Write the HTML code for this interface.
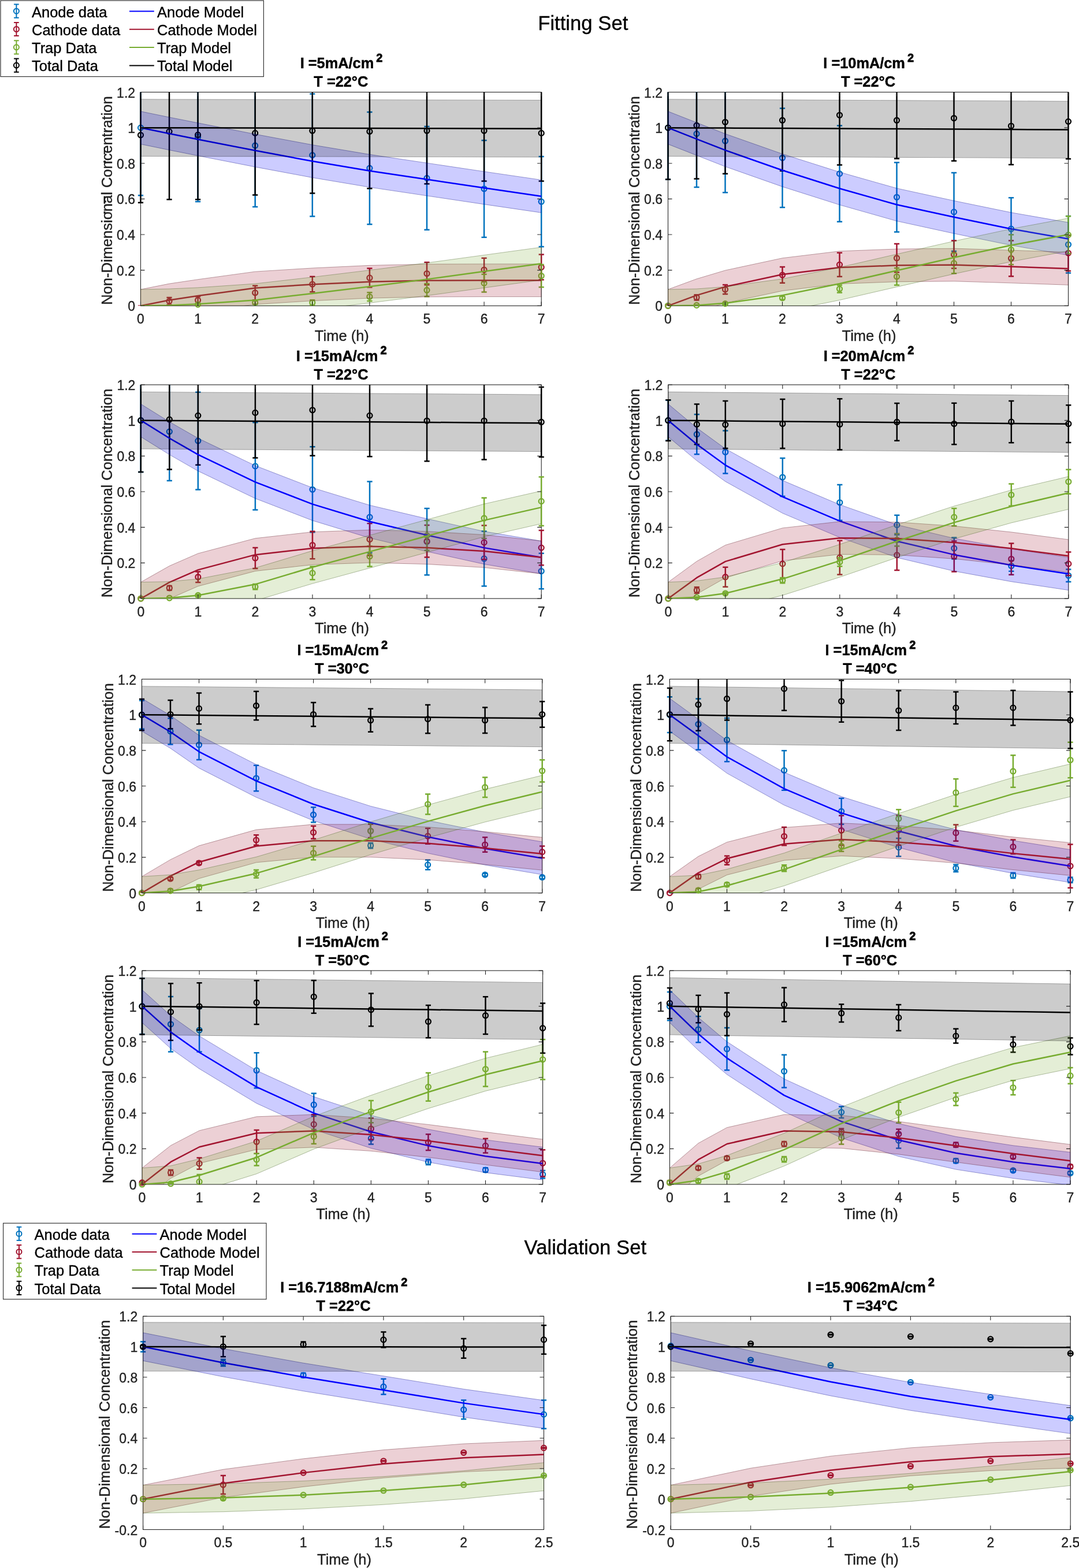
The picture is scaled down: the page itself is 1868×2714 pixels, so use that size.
<!DOCTYPE html>
<html><head><meta charset="utf-8"><title>Fitting and Validation Sets</title><style>html,body{margin:0;padding:0;background:#fff}svg{display:block}</style></head>
<body>
<svg width="1868" height="2714" viewBox="0 0 1868 2714">
<style>text{font-family:"Liberation Sans",Arial,Helvetica,sans-serif;fill:#000;stroke:#000;stroke-width:0.35px}.tk{font-size:23px;fill:#1f1f1f;stroke:#1f1f1f}.lab{font-size:25.5px;fill:#1f1f1f;stroke:#1f1f1f}.ttl{font-size:25.35px;font-weight:bold;stroke-width:0.45px}.leg{font-size:25.5px}.big{font-size:34.7px}</style>
<rect width="1868" height="2714" fill="#fff"/>
<clipPath id="c0"><rect x="243.5" y="159.5" width="693.7" height="369.8"/></clipPath>
<clipPath id="cw0"><rect x="231.5" y="159.5" width="717.7" height="369.8"/></clipPath>
<rect x="243.5" y="159.5" width="693.7" height="369.8" fill="none" stroke="#262626" stroke-width="1.1"/>
<path clip-path="url(#cw0)" d="M243.5 104.03V338.24M238.9 104.03H248.1M238.9 338.24H248.1M342.6 125.29V349.02M338 125.29H347.2M338 349.02H347.2M441.7 145.94V357.96M437.1 145.94H446.3M437.1 357.96H446.3M540.8 162.58V374.6M536.2 162.58H545.4M536.2 374.6H545.4M639.9 194.01V388.16M635.3 194.01H644.5M635.3 388.16H644.5M739 218.98V397.71M734.4 218.98H743.6M734.4 397.71H743.6M838.1 243.01V410.66M833.5 243.01H842.7M833.5 410.66H842.7M937.2 271.06V426.99M932.6 271.06H941.8M932.6 426.99H941.8" stroke="#0072BD" stroke-width="2.5" fill="none"/>
<circle cx="243.5" cy="221.13" r="4.45" stroke="#0072BD" stroke-width="2.3" fill="none"/>
<circle cx="342.6" cy="237.16" r="4.45" stroke="#0072BD" stroke-width="2.3" fill="none"/>
<circle cx="441.7" cy="251.95" r="4.45" stroke="#0072BD" stroke-width="2.3" fill="none"/>
<circle cx="540.8" cy="268.59" r="4.45" stroke="#0072BD" stroke-width="2.3" fill="none"/>
<circle cx="639.9" cy="291.09" r="4.45" stroke="#0072BD" stroke-width="2.3" fill="none"/>
<circle cx="739" cy="308.34" r="4.45" stroke="#0072BD" stroke-width="2.3" fill="none"/>
<circle cx="838.1" cy="326.83" r="4.45" stroke="#0072BD" stroke-width="2.3" fill="none"/>
<circle cx="937.2" cy="349.02" r="4.45" stroke="#0072BD" stroke-width="2.3" fill="none"/>
<path clip-path="url(#cw0)" d="M243.5 529.61V529.61M238.9 529.61H248.1M238.9 529.61H248.1M293.05 515.12V527.45M288.45 515.12H297.65M288.45 527.45H297.65M342.6 513.28V525.6M338 513.28H347.2M338 525.6H347.2M441.7 494.48V519.13M437.1 494.48H446.3M437.1 519.13H446.3M540.8 478.76V505.26M536.2 478.76H545.4M536.2 505.26H545.4M639.9 464.58V497.25M635.3 464.58H644.5M635.3 497.25H644.5M739 454.11V492.94M734.4 454.11H743.6M734.4 492.94H743.6M838.1 446.71V487.39M833.5 446.71H842.7M833.5 487.39H842.7M937.2 440.55V484.31M932.6 440.55H941.8M932.6 484.31H941.8" stroke="#A2142F" stroke-width="2.5" fill="none"/>
<circle cx="293.05" cy="521.29" r="4.45" stroke="#A2142F" stroke-width="2.3" fill="none"/>
<circle cx="342.6" cy="519.44" r="4.45" stroke="#A2142F" stroke-width="2.3" fill="none"/>
<circle cx="441.7" cy="506.8" r="4.45" stroke="#A2142F" stroke-width="2.3" fill="none"/>
<circle cx="540.8" cy="492.01" r="4.45" stroke="#A2142F" stroke-width="2.3" fill="none"/>
<circle cx="639.9" cy="480.92" r="4.45" stroke="#A2142F" stroke-width="2.3" fill="none"/>
<circle cx="739" cy="473.52" r="4.45" stroke="#A2142F" stroke-width="2.3" fill="none"/>
<circle cx="838.1" cy="467.05" r="4.45" stroke="#A2142F" stroke-width="2.3" fill="none"/>
<circle cx="937.2" cy="462.43" r="4.45" stroke="#A2142F" stroke-width="2.3" fill="none"/>
<path clip-path="url(#cw0)" d="M342.6 525.6V528.68M338 525.6H347.2M338 528.68H347.2M441.7 520.67V526.83M437.1 520.67H446.3M437.1 526.83H446.3M540.8 519.13V528.38M536.2 519.13H545.4M536.2 528.38H545.4M639.9 506.19V520.98M635.3 506.19H644.5M635.3 520.98H644.5M739 491.09V513.28M734.4 491.09H743.6M734.4 513.28H743.6M838.1 474.75V505.57M833.5 474.75H842.7M833.5 505.57H842.7M937.2 458.11V496.94M932.6 458.11H941.8M932.6 496.94H941.8" stroke="#77AC30" stroke-width="2.5" fill="none"/>
<circle cx="342.6" cy="527.14" r="4.45" stroke="#77AC30" stroke-width="2.3" fill="none"/>
<circle cx="441.7" cy="523.75" r="4.45" stroke="#77AC30" stroke-width="2.3" fill="none"/>
<circle cx="540.8" cy="523.75" r="4.45" stroke="#77AC30" stroke-width="2.3" fill="none"/>
<circle cx="639.9" cy="513.58" r="4.45" stroke="#77AC30" stroke-width="2.3" fill="none"/>
<circle cx="739" cy="502.18" r="4.45" stroke="#77AC30" stroke-width="2.3" fill="none"/>
<circle cx="838.1" cy="490.16" r="4.45" stroke="#77AC30" stroke-width="2.3" fill="none"/>
<circle cx="937.2" cy="477.53" r="4.45" stroke="#77AC30" stroke-width="2.3" fill="none"/>
<path clip-path="url(#cw0)" d="M243.5 116.66V350.87M238.9 116.66H248.1M238.9 350.87H248.1M293.05 109.89V345.32M288.45 109.89H297.65M288.45 345.32H297.65M342.6 121.6V345.32M338 121.6H347.2M338 345.32H347.2M441.7 123.14V337.62M437.1 123.14H446.3M437.1 337.62H446.3M540.8 118.21V334.54M536.2 118.21H545.4M536.2 334.54H545.4M639.9 128.99V326.22M635.3 128.99H644.5M635.3 326.22H644.5M739 134.54V318.21M734.4 134.54H743.6M734.4 318.21H743.6M838.1 139.16V313.58M833.5 139.16H842.7M833.5 313.58H842.7M937.2 147.17V313.58M932.6 147.17H941.8M932.6 313.58H941.8" stroke="#000" stroke-width="2.5" fill="none"/>
<circle cx="243.5" cy="233.77" r="4.45" stroke="#000" stroke-width="2.3" fill="none"/>
<circle cx="293.05" cy="227.6" r="4.45" stroke="#000" stroke-width="2.3" fill="none"/>
<circle cx="342.6" cy="233.46" r="4.45" stroke="#000" stroke-width="2.3" fill="none"/>
<circle cx="441.7" cy="230.38" r="4.45" stroke="#000" stroke-width="2.3" fill="none"/>
<circle cx="540.8" cy="226.37" r="4.45" stroke="#000" stroke-width="2.3" fill="none"/>
<circle cx="639.9" cy="227.6" r="4.45" stroke="#000" stroke-width="2.3" fill="none"/>
<circle cx="739" cy="226.37" r="4.45" stroke="#000" stroke-width="2.3" fill="none"/>
<circle cx="838.1" cy="226.37" r="4.45" stroke="#000" stroke-width="2.3" fill="none"/>
<circle cx="937.2" cy="230.38" r="4.45" stroke="#000" stroke-width="2.3" fill="none"/>
<polygon clip-path="url(#c0)" points="243.5,192.78 293.05,202.95 342.6,212.81 441.7,232.23 540.8,250.72 639.9,267.36 739,282.15 838.1,296.94 937.2,311.43 937.2,368.13 838.1,353.64 739,338.85 639.9,324.06 540.8,307.42 441.7,288.93 342.6,269.52 293.05,259.65 243.5,249.48" fill="#0000FF" fill-opacity="0.2" stroke="#00007f" stroke-opacity="0.38" stroke-width="1.0"/>
<polyline clip-path="url(#c0)" points="243.5,221.13 293.05,231.3 342.6,241.16 441.7,260.58 540.8,279.07 639.9,295.71 739,310.5 838.1,325.29 937.2,339.78" stroke="#0000FF" stroke-width="2.5" fill="none" stroke-linejoin="round"/>
<polygon clip-path="url(#c0)" points="243.5,500.95 293.05,491.09 342.6,483.69 441.7,470.13 540.8,463.97 639.9,459.35 739,457.19 838.1,456.88 937.2,456.88 937.2,513.58 838.1,513.58 739,513.89 639.9,516.05 540.8,520.67 441.7,526.83 342.6,540.39 293.05,547.79 243.5,557.65" fill="#A2142F" fill-opacity="0.2" stroke="#510a17" stroke-opacity="0.38" stroke-width="1.0"/>
<polyline clip-path="url(#c0)" points="243.5,529.3 293.05,519.44 342.6,512.04 441.7,498.48 540.8,492.32 639.9,487.7 739,485.54 838.1,485.23 937.2,485.23" stroke="#A2142F" stroke-width="2.5" fill="none" stroke-linejoin="round"/>
<polygon clip-path="url(#c0)" points="243.5,500.95 293.05,500.02 342.6,497.87 441.7,491.09 540.8,479.69 639.9,467.67 739,455.03 838.1,441.47 937.2,427.91 937.2,484.62 838.1,498.18 739,511.73 639.9,524.37 540.8,536.39 441.7,547.79 342.6,554.57 293.05,556.73 243.5,557.65" fill="#77AC30" fill-opacity="0.2" stroke="#3b5618" stroke-opacity="0.38" stroke-width="1.0"/>
<polyline clip-path="url(#c0)" points="243.5,529.3 293.05,528.38 342.6,526.22 441.7,519.44 540.8,508.04 639.9,496.02 739,483.38 838.1,469.82 937.2,456.26" stroke="#77AC30" stroke-width="2.5" fill="none" stroke-linejoin="round"/>
<polygon clip-path="url(#c0)" points="243.5,171.83 293.05,171.94 342.6,172.05 441.7,172.27 540.8,172.49 639.9,172.71 739,172.93 838.1,173.15 937.2,173.37 937.2,271.98 838.1,271.76 739,271.54 639.9,271.32 540.8,271.1 441.7,270.88 342.6,270.66 293.05,270.55 243.5,270.44" fill="#000" fill-opacity="0.2" stroke="#000000" stroke-opacity="0.3" stroke-width="1.0"/>
<polyline clip-path="url(#c0)" points="243.5,221.13 293.05,221.24 342.6,221.35 441.7,221.57 540.8,221.79 639.9,222.01 739,222.23 838.1,222.45 937.2,222.67" stroke="#000" stroke-width="2.5" fill="none" stroke-linejoin="round"/>
<path d="M243.5 529.3v-7M243.5 159.5v7M342.6 529.3v-7M342.6 159.5v7M441.7 529.3v-7M441.7 159.5v7M540.8 529.3v-7M540.8 159.5v7M639.9 529.3v-7M639.9 159.5v7M739 529.3v-7M739 159.5v7M838.1 529.3v-7M838.1 159.5v7M937.2 529.3v-7M937.2 159.5v7M243.5 529.3h7M937.2 529.3h-7M243.5 467.67h7M937.2 467.67h-7M243.5 406.03h7M937.2 406.03h-7M243.5 344.4h7M937.2 344.4h-7M243.5 282.77h7M937.2 282.77h-7M243.5 221.13h7M937.2 221.13h-7M243.5 159.5h7M937.2 159.5h-7" stroke="#262626" stroke-width="1.1" fill="none"/>
<text x="243.5" y="560.2" text-anchor="middle" class="tk">0</text>
<text x="342.6" y="560.2" text-anchor="middle" class="tk">1</text>
<text x="441.7" y="560.2" text-anchor="middle" class="tk">2</text>
<text x="540.8" y="560.2" text-anchor="middle" class="tk">3</text>
<text x="639.9" y="560.2" text-anchor="middle" class="tk">4</text>
<text x="739" y="560.2" text-anchor="middle" class="tk">5</text>
<text x="838.1" y="560.2" text-anchor="middle" class="tk">6</text>
<text x="937.2" y="560.2" text-anchor="middle" class="tk">7</text>
<text x="234.1" y="538.3" text-anchor="end" class="tk">0</text>
<text x="234.1" y="476.67" text-anchor="end" class="tk">0.2</text>
<text x="234.1" y="415.03" text-anchor="end" class="tk">0.4</text>
<text x="234.1" y="353.4" text-anchor="end" class="tk">0.6</text>
<text x="234.1" y="291.77" text-anchor="end" class="tk">0.8</text>
<text x="234.1" y="230.13" text-anchor="end" class="tk">1</text>
<text x="234.1" y="168.5" text-anchor="end" class="tk">1.2</text>
<text x="591.85" y="589.6" text-anchor="middle" class="lab">Time (h)</text>
<text transform="translate(193.7,347) rotate(-90)" x="0" y="0" text-anchor="middle" class="lab">Non-Dimensional Concentration</text>
<text x="591.05" y="118.3" text-anchor="middle" class="ttl">I =5mA/cm<tspan dx="4.0" dy="-11.4" font-size="20" font-weight="bold" stroke-width="0.8">2</tspan></text>
<text x="590.35" y="150" text-anchor="middle" class="ttl">T =22°C</text>
<clipPath id="c1"><rect x="1156.5" y="159.5" width="693" height="369.8"/></clipPath>
<clipPath id="cw1"><rect x="1144.5" y="159.5" width="717" height="369.8"/></clipPath>
<rect x="1156.5" y="159.5" width="693" height="369.8" fill="none" stroke="#262626" stroke-width="1.1"/>
<path clip-path="url(#cw1)" d="M1156.5 131.76V310.5M1151.9 131.76H1161.1M1151.9 310.5H1161.1M1206 139.16V324.06M1201.4 139.16H1210.6M1201.4 324.06H1210.6M1255.5 154.57V333.31M1250.9 154.57H1260.1M1250.9 333.31H1260.1M1354.5 187.54V358.88M1349.9 187.54H1359.1M1349.9 358.88H1359.1M1453.5 217.44V383.85M1448.9 217.44H1458.1M1448.9 383.85H1458.1M1552.5 281.23V401.41M1547.9 281.23H1557.1M1547.9 401.41H1557.1M1651.5 299.1V434.69M1646.9 299.1H1656.1M1646.9 434.69H1656.1M1750.5 342.24V450.1M1745.9 342.24H1755.1M1745.9 450.1H1755.1M1849.5 373.98V472.6M1844.9 373.98H1854.1M1844.9 472.6H1854.1" stroke="#0072BD" stroke-width="2.5" fill="none"/>
<circle cx="1156.5" cy="221.13" r="4.45" stroke="#0072BD" stroke-width="2.3" fill="none"/>
<circle cx="1206" cy="231.61" r="4.45" stroke="#0072BD" stroke-width="2.3" fill="none"/>
<circle cx="1255.5" cy="243.94" r="4.45" stroke="#0072BD" stroke-width="2.3" fill="none"/>
<circle cx="1354.5" cy="273.21" r="4.45" stroke="#0072BD" stroke-width="2.3" fill="none"/>
<circle cx="1453.5" cy="300.64" r="4.45" stroke="#0072BD" stroke-width="2.3" fill="none"/>
<circle cx="1552.5" cy="341.32" r="4.45" stroke="#0072BD" stroke-width="2.3" fill="none"/>
<circle cx="1651.5" cy="366.9" r="4.45" stroke="#0072BD" stroke-width="2.3" fill="none"/>
<circle cx="1750.5" cy="396.17" r="4.45" stroke="#0072BD" stroke-width="2.3" fill="none"/>
<circle cx="1849.5" cy="423.29" r="4.45" stroke="#0072BD" stroke-width="2.3" fill="none"/>
<path clip-path="url(#cw1)" d="M1156.5 527.76V530.84M1151.9 527.76H1161.1M1151.9 530.84H1161.1M1206 510.19V519.44M1201.4 510.19H1210.6M1201.4 519.44H1210.6M1255.5 492.94V508.96M1250.9 492.94H1260.1M1250.9 508.96H1260.1M1354.5 462.12V489.85M1349.9 462.12H1359.1M1349.9 489.85H1359.1M1453.5 437.47V478.76M1448.9 437.47H1458.1M1448.9 478.76H1458.1M1552.5 422.06V471.36M1547.9 422.06H1557.1M1547.9 471.36H1557.1M1651.5 416.51V464.58M1646.9 416.51H1656.1M1646.9 464.58H1656.1M1750.5 416.51V478.14M1745.9 416.51H1755.1M1745.9 478.14H1755.1M1849.5 407.27V468.9M1844.9 407.27H1854.1M1844.9 468.9H1854.1" stroke="#A2142F" stroke-width="2.5" fill="none"/>
<circle cx="1156.5" cy="529.3" r="4.45" stroke="#A2142F" stroke-width="2.3" fill="none"/>
<circle cx="1206" cy="514.82" r="4.45" stroke="#A2142F" stroke-width="2.3" fill="none"/>
<circle cx="1255.5" cy="500.95" r="4.45" stroke="#A2142F" stroke-width="2.3" fill="none"/>
<circle cx="1354.5" cy="475.99" r="4.45" stroke="#A2142F" stroke-width="2.3" fill="none"/>
<circle cx="1453.5" cy="458.11" r="4.45" stroke="#A2142F" stroke-width="2.3" fill="none"/>
<circle cx="1552.5" cy="446.71" r="4.45" stroke="#A2142F" stroke-width="2.3" fill="none"/>
<circle cx="1651.5" cy="440.55" r="4.45" stroke="#A2142F" stroke-width="2.3" fill="none"/>
<circle cx="1750.5" cy="447.33" r="4.45" stroke="#A2142F" stroke-width="2.3" fill="none"/>
<circle cx="1849.5" cy="438.08" r="4.45" stroke="#A2142F" stroke-width="2.3" fill="none"/>
<path clip-path="url(#cw1)" d="M1156.5 529.3V529.3M1151.9 529.3H1161.1M1151.9 529.3H1161.1M1206 527.45V529.3M1201.4 527.45H1210.6M1201.4 529.3H1210.6M1255.5 524.06V527.14M1250.9 524.06H1260.1M1250.9 527.14H1260.1M1354.5 512.66V518.82M1349.9 512.66H1359.1M1349.9 518.82H1359.1M1453.5 493.55V506.5M1448.9 493.55H1458.1M1448.9 506.5H1458.1M1552.5 463.97V493.55M1547.9 463.97H1557.1M1547.9 493.55H1557.1M1651.5 438.08V473.21M1646.9 438.08H1656.1M1646.9 473.21H1656.1M1750.5 406.34V458.11M1745.9 406.34H1755.1M1745.9 458.11H1755.1M1849.5 374.29V439.01M1844.9 374.29H1854.1M1844.9 439.01H1854.1" stroke="#77AC30" stroke-width="2.5" fill="none"/>
<circle cx="1156.5" cy="529.3" r="4.45" stroke="#77AC30" stroke-width="2.3" fill="none"/>
<circle cx="1206" cy="528.38" r="4.45" stroke="#77AC30" stroke-width="2.3" fill="none"/>
<circle cx="1255.5" cy="525.6" r="4.45" stroke="#77AC30" stroke-width="2.3" fill="none"/>
<circle cx="1354.5" cy="515.74" r="4.45" stroke="#77AC30" stroke-width="2.3" fill="none"/>
<circle cx="1453.5" cy="500.02" r="4.45" stroke="#77AC30" stroke-width="2.3" fill="none"/>
<circle cx="1552.5" cy="478.76" r="4.45" stroke="#77AC30" stroke-width="2.3" fill="none"/>
<circle cx="1651.5" cy="455.65" r="4.45" stroke="#77AC30" stroke-width="2.3" fill="none"/>
<circle cx="1750.5" cy="432.23" r="4.45" stroke="#77AC30" stroke-width="2.3" fill="none"/>
<circle cx="1849.5" cy="406.65" r="4.45" stroke="#77AC30" stroke-width="2.3" fill="none"/>
<path clip-path="url(#cw1)" d="M1156.5 131.76V310.5M1151.9 131.76H1161.1M1151.9 310.5H1161.1M1206 124.68V309.58M1201.4 124.68H1210.6M1201.4 309.58H1210.6M1255.5 121.9V300.64M1250.9 121.9H1260.1M1250.9 300.64H1260.1M1354.5 120.67V295.71M1349.9 120.67H1359.1M1349.9 295.71H1359.1M1453.5 112.97V285.54M1448.9 112.97H1458.1M1448.9 285.54H1458.1M1552.5 141.93V274.45M1547.9 141.93H1557.1M1547.9 274.45H1557.1M1651.5 130.53V278.45M1646.9 130.53H1656.1M1646.9 278.45H1656.1M1750.5 151.18V284.92M1745.9 151.18H1755.1M1745.9 284.92H1755.1M1849.5 145.63V275.06M1844.9 145.63H1854.1M1844.9 275.06H1854.1" stroke="#000" stroke-width="2.5" fill="none"/>
<circle cx="1156.5" cy="221.13" r="4.45" stroke="#000" stroke-width="2.3" fill="none"/>
<circle cx="1206" cy="217.13" r="4.45" stroke="#000" stroke-width="2.3" fill="none"/>
<circle cx="1255.5" cy="211.27" r="4.45" stroke="#000" stroke-width="2.3" fill="none"/>
<circle cx="1354.5" cy="208.19" r="4.45" stroke="#000" stroke-width="2.3" fill="none"/>
<circle cx="1453.5" cy="199.25" r="4.45" stroke="#000" stroke-width="2.3" fill="none"/>
<circle cx="1552.5" cy="208.19" r="4.45" stroke="#000" stroke-width="2.3" fill="none"/>
<circle cx="1651.5" cy="204.49" r="4.45" stroke="#000" stroke-width="2.3" fill="none"/>
<circle cx="1750.5" cy="218.05" r="4.45" stroke="#000" stroke-width="2.3" fill="none"/>
<circle cx="1849.5" cy="210.35" r="4.45" stroke="#000" stroke-width="2.3" fill="none"/>
<polygon clip-path="url(#c1)" points="1156.5,192.78 1206,212.2 1255.5,231.61 1354.5,266.43 1453.5,297.87 1552.5,325.91 1651.5,347.48 1750.5,367.82 1849.5,385.08 1849.5,441.78 1750.5,424.52 1651.5,404.18 1552.5,382.61 1453.5,354.57 1354.5,323.14 1255.5,288.31 1206,268.9 1156.5,249.48" fill="#0000FF" fill-opacity="0.2" stroke="#00007f" stroke-opacity="0.38" stroke-width="1.0"/>
<polyline clip-path="url(#c1)" points="1156.5,221.13 1206,240.55 1255.5,259.96 1354.5,294.79 1453.5,326.22 1552.5,354.26 1651.5,375.83 1750.5,396.17 1849.5,413.43" stroke="#0000FF" stroke-width="2.5" fill="none" stroke-linejoin="round"/>
<polygon clip-path="url(#c1)" points="1156.5,500.95 1206,482.77 1255.5,467.97 1354.5,446.71 1453.5,434.69 1552.5,430.99 1651.5,430.07 1750.5,433.15 1849.5,436.54 1849.5,493.24 1750.5,489.85 1651.5,486.77 1552.5,487.7 1453.5,491.4 1354.5,503.41 1255.5,524.68 1206,539.47 1156.5,557.65" fill="#A2142F" fill-opacity="0.2" stroke="#510a17" stroke-opacity="0.38" stroke-width="1.0"/>
<polyline clip-path="url(#c1)" points="1156.5,529.3 1206,511.12 1255.5,496.33 1354.5,475.06 1453.5,463.04 1552.5,459.35 1651.5,458.42 1750.5,461.5 1849.5,464.89" stroke="#A2142F" stroke-width="2.5" fill="none" stroke-linejoin="round"/>
<polygon clip-path="url(#c1)" points="1156.5,500.95 1206,500.02 1255.5,496.33 1354.5,482.77 1453.5,462.74 1552.5,439.93 1651.5,417.44 1750.5,396.17 1849.5,377.68 1849.5,434.38 1750.5,452.87 1651.5,474.14 1552.5,496.63 1453.5,519.44 1354.5,539.47 1255.5,553.03 1206,556.73 1156.5,557.65" fill="#77AC30" fill-opacity="0.2" stroke="#3b5618" stroke-opacity="0.38" stroke-width="1.0"/>
<polyline clip-path="url(#c1)" points="1156.5,529.3 1206,528.38 1255.5,524.68 1354.5,511.12 1453.5,491.09 1552.5,468.28 1651.5,445.79 1750.5,424.52 1849.5,406.03" stroke="#77AC30" stroke-width="2.5" fill="none" stroke-linejoin="round"/>
<polygon clip-path="url(#c1)" points="1156.5,171.83 1206,172.07 1255.5,172.31 1354.5,172.8 1453.5,173.28 1552.5,173.76 1651.5,174.25 1750.5,174.73 1849.5,175.22 1849.5,273.83 1750.5,273.35 1651.5,272.86 1552.5,272.38 1453.5,271.89 1354.5,271.41 1255.5,270.92 1206,270.68 1156.5,270.44" fill="#000" fill-opacity="0.2" stroke="#000000" stroke-opacity="0.3" stroke-width="1.0"/>
<polyline clip-path="url(#c1)" points="1156.5,221.13 1206,221.38 1255.5,221.62 1354.5,222.1 1453.5,222.59 1552.5,223.07 1651.5,223.55 1750.5,224.04 1849.5,224.52" stroke="#000" stroke-width="2.5" fill="none" stroke-linejoin="round"/>
<path d="M1156.5 529.3v-7M1156.5 159.5v7M1255.5 529.3v-7M1255.5 159.5v7M1354.5 529.3v-7M1354.5 159.5v7M1453.5 529.3v-7M1453.5 159.5v7M1552.5 529.3v-7M1552.5 159.5v7M1651.5 529.3v-7M1651.5 159.5v7M1750.5 529.3v-7M1750.5 159.5v7M1849.5 529.3v-7M1849.5 159.5v7M1156.5 529.3h7M1849.5 529.3h-7M1156.5 467.67h7M1849.5 467.67h-7M1156.5 406.03h7M1849.5 406.03h-7M1156.5 344.4h7M1849.5 344.4h-7M1156.5 282.77h7M1849.5 282.77h-7M1156.5 221.13h7M1849.5 221.13h-7M1156.5 159.5h7M1849.5 159.5h-7" stroke="#262626" stroke-width="1.1" fill="none"/>
<text x="1156.5" y="560.2" text-anchor="middle" class="tk">0</text>
<text x="1255.5" y="560.2" text-anchor="middle" class="tk">1</text>
<text x="1354.5" y="560.2" text-anchor="middle" class="tk">2</text>
<text x="1453.5" y="560.2" text-anchor="middle" class="tk">3</text>
<text x="1552.5" y="560.2" text-anchor="middle" class="tk">4</text>
<text x="1651.5" y="560.2" text-anchor="middle" class="tk">5</text>
<text x="1750.5" y="560.2" text-anchor="middle" class="tk">6</text>
<text x="1849.5" y="560.2" text-anchor="middle" class="tk">7</text>
<text x="1147.1" y="538.3" text-anchor="end" class="tk">0</text>
<text x="1147.1" y="476.67" text-anchor="end" class="tk">0.2</text>
<text x="1147.1" y="415.03" text-anchor="end" class="tk">0.4</text>
<text x="1147.1" y="353.4" text-anchor="end" class="tk">0.6</text>
<text x="1147.1" y="291.77" text-anchor="end" class="tk">0.8</text>
<text x="1147.1" y="230.13" text-anchor="end" class="tk">1</text>
<text x="1147.1" y="168.5" text-anchor="end" class="tk">1.2</text>
<text x="1504.5" y="589.6" text-anchor="middle" class="lab">Time (h)</text>
<text transform="translate(1106.7,347) rotate(-90)" x="0" y="0" text-anchor="middle" class="lab">Non-Dimensional Concentration</text>
<text x="1503.7" y="118.3" text-anchor="middle" class="ttl">I =10mA/cm<tspan dx="4.0" dy="-11.4" font-size="20" font-weight="bold" stroke-width="0.8">2</tspan></text>
<text x="1503" y="150" text-anchor="middle" class="ttl">T =22°C</text>
<clipPath id="c2"><rect x="243.8" y="666" width="693.4" height="370"/></clipPath>
<clipPath id="cw2"><rect x="231.8" y="666" width="717.4" height="370"/></clipPath>
<rect x="243.8" y="666" width="693.4" height="370" fill="none" stroke="#262626" stroke-width="1.1"/>
<path clip-path="url(#cw2)" d="M243.8 638.25V817.08M239.2 638.25H248.4M239.2 817.08H248.4M293.33 662.3V831.88M288.73 662.3H297.93M288.73 831.88H297.93M342.86 678.64V847.61M338.26 678.64H347.46M338.26 847.61H347.46M441.91 731.37V882.45M437.31 731.37H446.51M437.31 882.45H446.51M540.97 773.3V921.3M536.37 773.3H545.57M536.37 921.3H545.57M640.03 833.42V956.76M635.43 833.42H644.63M635.43 956.76H644.63M739.09 879.98V995.3M734.49 879.98H743.69M734.49 995.3H743.69M838.14 919.45V1014.42M833.54 919.45H842.74M833.54 1014.42H842.74M937.2 957.68V1019.35M932.6 957.68H941.8M932.6 1019.35H941.8" stroke="#0072BD" stroke-width="2.5" fill="none"/>
<circle cx="243.8" cy="727.67" r="4.45" stroke="#0072BD" stroke-width="2.3" fill="none"/>
<circle cx="293.33" cy="747.09" r="4.45" stroke="#0072BD" stroke-width="2.3" fill="none"/>
<circle cx="342.86" cy="763.12" r="4.45" stroke="#0072BD" stroke-width="2.3" fill="none"/>
<circle cx="441.91" cy="806.91" r="4.45" stroke="#0072BD" stroke-width="2.3" fill="none"/>
<circle cx="540.97" cy="847.3" r="4.45" stroke="#0072BD" stroke-width="2.3" fill="none"/>
<circle cx="640.03" cy="895.09" r="4.45" stroke="#0072BD" stroke-width="2.3" fill="none"/>
<circle cx="739.09" cy="937.64" r="4.45" stroke="#0072BD" stroke-width="2.3" fill="none"/>
<circle cx="838.14" cy="966.93" r="4.45" stroke="#0072BD" stroke-width="2.3" fill="none"/>
<circle cx="937.2" cy="988.52" r="4.45" stroke="#0072BD" stroke-width="2.3" fill="none"/>
<path clip-path="url(#cw2)" d="M243.8 1034.46V1037.54M239.2 1034.46H248.4M239.2 1037.54H248.4M293.33 1014.11V1021.51M288.73 1014.11H297.93M288.73 1021.51H297.93M342.86 989.44V1007.94M338.26 989.44H347.46M338.26 1007.94H347.46M441.91 948.12V983.89M437.31 948.12H446.51M437.31 983.89H446.51M540.97 919.76V967.24M536.37 919.76H545.57M536.37 967.24H545.57M640.03 905.88V961.38M635.43 905.88H644.63M635.43 961.38H644.63M739.09 908.97V964.47M734.49 908.97H743.69M734.49 964.47H743.69M838.14 909.58V968.17M833.54 909.58H842.74M833.54 968.17H842.74M937.2 917.91V978.34M932.6 917.91H941.8M932.6 978.34H941.8" stroke="#A2142F" stroke-width="2.5" fill="none"/>
<circle cx="243.8" cy="1036" r="4.45" stroke="#A2142F" stroke-width="2.3" fill="none"/>
<circle cx="293.33" cy="1017.81" r="4.45" stroke="#A2142F" stroke-width="2.3" fill="none"/>
<circle cx="342.86" cy="998.69" r="4.45" stroke="#A2142F" stroke-width="2.3" fill="none"/>
<circle cx="441.91" cy="966.01" r="4.45" stroke="#A2142F" stroke-width="2.3" fill="none"/>
<circle cx="540.97" cy="943.5" r="4.45" stroke="#A2142F" stroke-width="2.3" fill="none"/>
<circle cx="640.03" cy="933.63" r="4.45" stroke="#A2142F" stroke-width="2.3" fill="none"/>
<circle cx="739.09" cy="936.72" r="4.45" stroke="#A2142F" stroke-width="2.3" fill="none"/>
<circle cx="838.14" cy="938.88" r="4.45" stroke="#A2142F" stroke-width="2.3" fill="none"/>
<circle cx="937.2" cy="948.12" r="4.45" stroke="#A2142F" stroke-width="2.3" fill="none"/>
<path clip-path="url(#cw2)" d="M243.8 1036V1036M239.2 1036H248.4M239.2 1036H248.4M293.33 1034.15V1036M288.73 1034.15H297.93M288.73 1036H297.93M342.86 1028.91V1031.99M338.26 1028.91H347.46M338.26 1031.99H347.46M441.91 1011.02V1020.27M437.31 1011.02H446.51M437.31 1020.27H446.51M540.97 980.5V1003.32M536.37 980.5H545.57M536.37 1003.32H545.57M640.03 945.35V980.5M635.43 945.35H644.63M635.43 980.5H644.63M739.09 900.95V952.75M734.49 900.95H743.69M734.49 952.75H743.69M838.14 861.79V932.09M833.54 861.79H842.74M833.54 932.09H842.74M937.2 825.41V909.89M932.6 825.41H941.8M932.6 909.89H941.8" stroke="#77AC30" stroke-width="2.5" fill="none"/>
<circle cx="243.8" cy="1036" r="4.45" stroke="#77AC30" stroke-width="2.3" fill="none"/>
<circle cx="293.33" cy="1035.08" r="4.45" stroke="#77AC30" stroke-width="2.3" fill="none"/>
<circle cx="342.86" cy="1030.45" r="4.45" stroke="#77AC30" stroke-width="2.3" fill="none"/>
<circle cx="441.91" cy="1015.65" r="4.45" stroke="#77AC30" stroke-width="2.3" fill="none"/>
<circle cx="540.97" cy="991.91" r="4.45" stroke="#77AC30" stroke-width="2.3" fill="none"/>
<circle cx="640.03" cy="962.92" r="4.45" stroke="#77AC30" stroke-width="2.3" fill="none"/>
<circle cx="739.09" cy="926.85" r="4.45" stroke="#77AC30" stroke-width="2.3" fill="none"/>
<circle cx="838.14" cy="896.94" r="4.45" stroke="#77AC30" stroke-width="2.3" fill="none"/>
<circle cx="937.2" cy="867.65" r="4.45" stroke="#77AC30" stroke-width="2.3" fill="none"/>
<path clip-path="url(#cw2)" d="M243.8 638.25V817.08M239.2 638.25H248.4M239.2 817.08H248.4M293.33 639.79V812.46M288.73 639.79H297.93M288.73 812.46H297.93M342.86 633.93V804.75M338.26 633.93H347.46M338.26 804.75H347.46M441.91 636.4V792.42M437.31 636.4H446.51M437.31 792.42H446.51M540.97 630.85V788.72M536.37 630.85H545.57M536.37 788.72H545.57M640.03 648.42V790.26M635.43 648.42H644.63M635.43 790.26H644.63M739.09 658.29V798.27M734.49 658.29H743.69M734.49 798.27H743.69M838.14 661.07V795.5M833.54 661.07H842.74M833.54 795.5H842.74M937.2 670.01V790.88M932.6 670.01H941.8M932.6 790.88H941.8" stroke="#000" stroke-width="2.5" fill="none"/>
<circle cx="243.8" cy="727.67" r="4.45" stroke="#000" stroke-width="2.3" fill="none"/>
<circle cx="293.33" cy="726.12" r="4.45" stroke="#000" stroke-width="2.3" fill="none"/>
<circle cx="342.86" cy="719.34" r="4.45" stroke="#000" stroke-width="2.3" fill="none"/>
<circle cx="441.91" cy="714.41" r="4.45" stroke="#000" stroke-width="2.3" fill="none"/>
<circle cx="540.97" cy="709.78" r="4.45" stroke="#000" stroke-width="2.3" fill="none"/>
<circle cx="640.03" cy="719.34" r="4.45" stroke="#000" stroke-width="2.3" fill="none"/>
<circle cx="739.09" cy="728.28" r="4.45" stroke="#000" stroke-width="2.3" fill="none"/>
<circle cx="838.14" cy="728.28" r="4.45" stroke="#000" stroke-width="2.3" fill="none"/>
<circle cx="937.2" cy="730.44" r="4.45" stroke="#000" stroke-width="2.3" fill="none"/>
<polygon clip-path="url(#c2)" points="243.8,699.3 293.33,730.13 342.86,758.5 441.91,805.98 540.97,844.22 640.03,874.43 739.09,897.87 838.14,919.76 937.2,936.41 937.2,993.14 838.14,976.49 739.09,954.6 640.03,931.17 540.97,900.95 441.91,862.72 342.86,815.23 293.33,786.87 243.8,756.03" fill="#0000FF" fill-opacity="0.2" stroke="#00007f" stroke-opacity="0.38" stroke-width="1.0"/>
<polyline clip-path="url(#c2)" points="243.8,727.67 293.33,758.5 342.86,786.87 441.91,834.35 540.97,872.58 640.03,902.8 739.09,926.23 838.14,948.12 937.2,964.77" stroke="#0000FF" stroke-width="2.5" fill="none" stroke-linejoin="round"/>
<polygon clip-path="url(#c2)" points="243.8,1007.63 293.33,979.58 342.86,957.99 441.91,931.78 540.97,920.68 640.03,917.29 739.09,919.76 838.14,925.62 937.2,936.41 937.2,993.14 838.14,982.35 739.09,976.49 640.03,974.02 540.97,977.42 441.91,988.52 342.86,1014.73 293.33,1036.31 243.8,1064.37" fill="#A2142F" fill-opacity="0.2" stroke="#510a17" stroke-opacity="0.38" stroke-width="1.0"/>
<polyline clip-path="url(#c2)" points="243.8,1036 293.33,1007.94 342.86,986.36 441.91,960.15 540.97,949.05 640.03,945.66 739.09,948.12 838.14,953.98 937.2,964.77" stroke="#A2142F" stroke-width="2.5" fill="none" stroke-linejoin="round"/>
<polygon clip-path="url(#c2)" points="243.8,1007.63 293.33,1006.71 342.86,1002.08 441.91,982.97 540.97,953.37 640.03,926.54 739.09,899.41 838.14,872.27 937.2,849.77 937.2,906.5 838.14,929.01 739.09,956.14 640.03,983.27 540.97,1010.1 441.91,1039.7 342.86,1058.82 293.33,1063.44 243.8,1064.37" fill="#77AC30" fill-opacity="0.2" stroke="#3b5618" stroke-opacity="0.38" stroke-width="1.0"/>
<polyline clip-path="url(#c2)" points="243.8,1036 293.33,1035.08 342.86,1030.45 441.91,1011.33 540.97,981.73 640.03,954.91 739.09,927.77 838.14,900.64 937.2,878.13" stroke="#77AC30" stroke-width="2.5" fill="none" stroke-linejoin="round"/>
<polygon clip-path="url(#c2)" points="243.8,678.33 293.33,678.66 342.86,678.99 441.91,679.65 540.97,680.32 640.03,680.98 739.09,681.64 838.14,682.3 937.2,682.96 937.2,781.62 838.14,780.96 739.09,780.3 640.03,779.64 540.97,778.98 441.91,778.32 342.86,777.66 293.33,777.33 243.8,777" fill="#000" fill-opacity="0.2" stroke="#000000" stroke-opacity="0.3" stroke-width="1.0"/>
<polyline clip-path="url(#c2)" points="243.8,727.67 293.33,728 342.86,728.33 441.91,728.99 540.97,729.65 640.03,730.31 739.09,730.97 838.14,731.63 937.2,732.29" stroke="#000" stroke-width="2.5" fill="none" stroke-linejoin="round"/>
<path d="M243.8 1036v-7M243.8 666v7M342.86 1036v-7M342.86 666v7M441.91 1036v-7M441.91 666v7M540.97 1036v-7M540.97 666v7M640.03 1036v-7M640.03 666v7M739.09 1036v-7M739.09 666v7M838.14 1036v-7M838.14 666v7M937.2 1036v-7M937.2 666v7M243.8 1036h7M937.2 1036h-7M243.8 974.33h7M937.2 974.33h-7M243.8 912.67h7M937.2 912.67h-7M243.8 851h7M937.2 851h-7M243.8 789.33h7M937.2 789.33h-7M243.8 727.67h7M937.2 727.67h-7M243.8 666h7M937.2 666h-7" stroke="#262626" stroke-width="1.1" fill="none"/>
<text x="243.8" y="1066.9" text-anchor="middle" class="tk">0</text>
<text x="342.86" y="1066.9" text-anchor="middle" class="tk">1</text>
<text x="441.91" y="1066.9" text-anchor="middle" class="tk">2</text>
<text x="540.97" y="1066.9" text-anchor="middle" class="tk">3</text>
<text x="640.03" y="1066.9" text-anchor="middle" class="tk">4</text>
<text x="739.09" y="1066.9" text-anchor="middle" class="tk">5</text>
<text x="838.14" y="1066.9" text-anchor="middle" class="tk">6</text>
<text x="937.2" y="1066.9" text-anchor="middle" class="tk">7</text>
<text x="234.4" y="1045" text-anchor="end" class="tk">0</text>
<text x="234.4" y="983.33" text-anchor="end" class="tk">0.2</text>
<text x="234.4" y="921.67" text-anchor="end" class="tk">0.4</text>
<text x="234.4" y="860" text-anchor="end" class="tk">0.6</text>
<text x="234.4" y="798.33" text-anchor="end" class="tk">0.8</text>
<text x="234.4" y="736.67" text-anchor="end" class="tk">1</text>
<text x="234.4" y="675" text-anchor="end" class="tk">1.2</text>
<text x="592" y="1096.3" text-anchor="middle" class="lab">Time (h)</text>
<text transform="translate(194,853.6) rotate(-90)" x="0" y="0" text-anchor="middle" class="lab">Non-Dimensional Concentration</text>
<text x="591.2" y="624.8" text-anchor="middle" class="ttl">I =15mA/cm<tspan dx="4.0" dy="-11.4" font-size="20" font-weight="bold" stroke-width="0.8">2</tspan></text>
<text x="590.5" y="656.5" text-anchor="middle" class="ttl">T =22°C</text>
<clipPath id="c3"><rect x="1156.8" y="666" width="693" height="370"/></clipPath>
<clipPath id="cw3"><rect x="1144.8" y="666" width="717" height="370"/></clipPath>
<rect x="1156.8" y="666" width="693" height="370" fill="none" stroke="#262626" stroke-width="1.1"/>
<path clip-path="url(#cw3)" d="M1156.8 692.83V762.51M1152.2 692.83H1161.4M1152.2 762.51H1161.4M1206.3 717.18V786.25M1201.7 717.18H1210.9M1201.7 786.25H1210.9M1255.8 745.55V819.55M1251.2 745.55H1260.4M1251.2 819.55H1260.4M1354.8 793.03V859.02M1350.2 793.03H1359.4M1350.2 859.02H1359.4M1453.8 838.98V900.64M1449.2 838.98H1458.4M1449.2 900.64H1458.4M1552.8 891.7V925.62M1548.2 891.7H1557.4M1548.2 925.62H1557.4M1651.8 930.55V967.55M1647.2 930.55H1656.4M1647.2 967.55H1656.4M1750.8 970.33V988.83M1746.2 970.33H1755.4M1746.2 988.83H1755.4M1849.8 985.43V1007.02M1845.2 985.43H1854.4M1845.2 1007.02H1854.4" stroke="#0072BD" stroke-width="2.5" fill="none"/>
<circle cx="1156.8" cy="727.67" r="4.45" stroke="#0072BD" stroke-width="2.3" fill="none"/>
<circle cx="1206.3" cy="751.72" r="4.45" stroke="#0072BD" stroke-width="2.3" fill="none"/>
<circle cx="1255.8" cy="782.55" r="4.45" stroke="#0072BD" stroke-width="2.3" fill="none"/>
<circle cx="1354.8" cy="826.02" r="4.45" stroke="#0072BD" stroke-width="2.3" fill="none"/>
<circle cx="1453.8" cy="869.81" r="4.45" stroke="#0072BD" stroke-width="2.3" fill="none"/>
<circle cx="1552.8" cy="908.66" r="4.45" stroke="#0072BD" stroke-width="2.3" fill="none"/>
<circle cx="1651.8" cy="949.05" r="4.45" stroke="#0072BD" stroke-width="2.3" fill="none"/>
<circle cx="1750.8" cy="979.58" r="4.45" stroke="#0072BD" stroke-width="2.3" fill="none"/>
<circle cx="1849.8" cy="996.23" r="4.45" stroke="#0072BD" stroke-width="2.3" fill="none"/>
<path clip-path="url(#cw3)" d="M1156.8 1034.46V1037.54M1152.2 1034.46H1161.4M1152.2 1037.54H1161.4M1206.3 1016.27V1026.75M1201.7 1016.27H1210.9M1201.7 1026.75H1210.9M1255.8 981.73V1015.65M1251.2 981.73H1260.4M1251.2 1015.65H1260.4M1354.8 950.9V1000.85M1350.2 950.9H1359.4M1350.2 1000.85H1359.4M1453.8 935.79V994.38M1449.2 935.79H1458.4M1449.2 994.38H1458.4M1552.8 934.56V986.98M1548.2 934.56H1557.4M1548.2 986.98H1557.4M1651.8 936.41V989.44M1647.2 936.41H1656.4M1647.2 989.44H1656.4M1750.8 940.42V994.68M1746.2 940.42H1755.4M1746.2 994.68H1755.4M1849.8 955.52V996.23M1845.2 955.52H1854.4M1845.2 996.23H1854.4" stroke="#A2142F" stroke-width="2.5" fill="none"/>
<circle cx="1156.8" cy="1036" r="4.45" stroke="#A2142F" stroke-width="2.3" fill="none"/>
<circle cx="1206.3" cy="1021.51" r="4.45" stroke="#A2142F" stroke-width="2.3" fill="none"/>
<circle cx="1255.8" cy="998.69" r="4.45" stroke="#A2142F" stroke-width="2.3" fill="none"/>
<circle cx="1354.8" cy="975.88" r="4.45" stroke="#A2142F" stroke-width="2.3" fill="none"/>
<circle cx="1453.8" cy="965.08" r="4.45" stroke="#A2142F" stroke-width="2.3" fill="none"/>
<circle cx="1552.8" cy="960.77" r="4.45" stroke="#A2142F" stroke-width="2.3" fill="none"/>
<circle cx="1651.8" cy="962.92" r="4.45" stroke="#A2142F" stroke-width="2.3" fill="none"/>
<circle cx="1750.8" cy="967.55" r="4.45" stroke="#A2142F" stroke-width="2.3" fill="none"/>
<circle cx="1849.8" cy="975.88" r="4.45" stroke="#A2142F" stroke-width="2.3" fill="none"/>
<path clip-path="url(#cw3)" d="M1156.8 1036V1036M1152.2 1036H1161.4M1152.2 1036H1161.4M1206.3 1032.92V1034.77M1201.7 1032.92H1210.9M1201.7 1034.77H1210.9M1255.8 1025.52V1028.6M1251.2 1025.52H1260.4M1251.2 1028.6H1260.4M1354.8 999.92V1009.17M1350.2 999.92H1359.4M1350.2 1009.17H1359.4M1453.8 965.39V980.19M1449.2 965.39H1458.4M1449.2 980.19H1458.4M1552.8 923.77V945.35M1548.2 923.77H1557.4M1548.2 945.35H1557.4M1651.8 879.98V910.2M1647.2 879.98H1656.4M1647.2 910.2H1656.4M1750.8 837.43V875.67M1746.2 837.43H1755.4M1746.2 875.67H1755.4M1849.8 812.77V854.7M1845.2 812.77H1854.4M1845.2 854.7H1854.4" stroke="#77AC30" stroke-width="2.5" fill="none"/>
<circle cx="1156.8" cy="1036" r="4.45" stroke="#77AC30" stroke-width="2.3" fill="none"/>
<circle cx="1206.3" cy="1033.84" r="4.45" stroke="#77AC30" stroke-width="2.3" fill="none"/>
<circle cx="1255.8" cy="1027.06" r="4.45" stroke="#77AC30" stroke-width="2.3" fill="none"/>
<circle cx="1354.8" cy="1004.55" r="4.45" stroke="#77AC30" stroke-width="2.3" fill="none"/>
<circle cx="1453.8" cy="972.79" r="4.45" stroke="#77AC30" stroke-width="2.3" fill="none"/>
<circle cx="1552.8" cy="934.56" r="4.45" stroke="#77AC30" stroke-width="2.3" fill="none"/>
<circle cx="1651.8" cy="895.09" r="4.45" stroke="#77AC30" stroke-width="2.3" fill="none"/>
<circle cx="1750.8" cy="856.55" r="4.45" stroke="#77AC30" stroke-width="2.3" fill="none"/>
<circle cx="1849.8" cy="833.73" r="4.45" stroke="#77AC30" stroke-width="2.3" fill="none"/>
<path clip-path="url(#cw3)" d="M1156.8 692.21V763.12M1152.2 692.21H1161.4M1152.2 763.12H1161.4M1206.3 699.61V769.29M1201.7 699.61H1210.9M1201.7 769.29H1210.9M1255.8 694.06V776.08M1251.2 694.06H1260.4M1251.2 776.08H1260.4M1354.8 690.98V776.08M1350.2 690.98H1359.4M1350.2 776.08H1359.4M1453.8 690.36V778.54M1449.2 690.36H1458.4M1449.2 778.54H1458.4M1552.8 698.07V762.82M1548.2 698.07H1557.4M1548.2 762.82H1557.4M1651.8 697.76V769.29M1647.2 697.76H1656.4M1647.2 769.29H1656.4M1750.8 694.06V766.21M1746.2 694.06H1755.4M1746.2 766.21H1755.4M1849.8 701.15V765.9M1845.2 701.15H1854.4M1845.2 765.9H1854.4" stroke="#000" stroke-width="2.5" fill="none"/>
<circle cx="1156.8" cy="727.67" r="4.45" stroke="#000" stroke-width="2.3" fill="none"/>
<circle cx="1206.3" cy="734.45" r="4.45" stroke="#000" stroke-width="2.3" fill="none"/>
<circle cx="1255.8" cy="735.07" r="4.45" stroke="#000" stroke-width="2.3" fill="none"/>
<circle cx="1354.8" cy="733.53" r="4.45" stroke="#000" stroke-width="2.3" fill="none"/>
<circle cx="1453.8" cy="734.45" r="4.45" stroke="#000" stroke-width="2.3" fill="none"/>
<circle cx="1552.8" cy="730.44" r="4.45" stroke="#000" stroke-width="2.3" fill="none"/>
<circle cx="1651.8" cy="733.53" r="4.45" stroke="#000" stroke-width="2.3" fill="none"/>
<circle cx="1750.8" cy="730.13" r="4.45" stroke="#000" stroke-width="2.3" fill="none"/>
<circle cx="1849.8" cy="733.53" r="4.45" stroke="#000" stroke-width="2.3" fill="none"/>
<polygon clip-path="url(#c3)" points="1156.8,699.3 1206.3,740.62 1255.8,776.69 1354.8,831.58 1453.8,873.51 1552.8,908.35 1651.8,931.78 1750.8,949.98 1849.8,964.77 1849.8,1021.51 1750.8,1006.71 1651.8,988.52 1552.8,965.08 1453.8,930.24 1354.8,888.31 1255.8,833.42 1206.3,797.35 1156.8,756.03" fill="#0000FF" fill-opacity="0.2" stroke="#00007f" stroke-opacity="0.38" stroke-width="1.0"/>
<polyline clip-path="url(#c3)" points="1156.8,727.67 1206.3,768.98 1255.8,805.06 1354.8,859.94 1453.8,901.88 1552.8,936.72 1651.8,960.15 1750.8,978.34 1849.8,993.14" stroke="#0000FF" stroke-width="2.5" fill="none" stroke-linejoin="round"/>
<polygon clip-path="url(#c3)" points="1156.8,1007.63 1206.3,971.56 1255.8,943.5 1354.8,913.9 1453.8,902.8 1552.8,903.72 1651.8,910.51 1750.8,920.99 1849.8,933.94 1849.8,990.67 1750.8,977.73 1651.8,967.24 1552.8,960.46 1453.8,959.53 1354.8,970.63 1255.8,1000.23 1206.3,1028.29 1156.8,1064.37" fill="#A2142F" fill-opacity="0.2" stroke="#510a17" stroke-opacity="0.38" stroke-width="1.0"/>
<polyline clip-path="url(#c3)" points="1156.8,1036 1206.3,999.92 1255.8,971.87 1354.8,942.27 1453.8,931.17 1552.8,932.09 1651.8,938.88 1750.8,949.36 1849.8,962.31" stroke="#A2142F" stroke-width="2.5" fill="none" stroke-linejoin="round"/>
<polygon clip-path="url(#c3)" points="1156.8,1007.63 1206.3,1005.48 1255.8,998.69 1354.8,973.72 1453.8,942.27 1552.8,908.35 1651.8,875.98 1750.8,848.23 1849.8,824.79 1849.8,881.52 1750.8,904.96 1651.8,932.71 1552.8,965.08 1453.8,999 1354.8,1030.45 1255.8,1055.42 1206.3,1062.21 1156.8,1064.37" fill="#77AC30" fill-opacity="0.2" stroke="#3b5618" stroke-opacity="0.38" stroke-width="1.0"/>
<polyline clip-path="url(#c3)" points="1156.8,1036 1206.3,1033.84 1255.8,1027.06 1354.8,1002.08 1453.8,970.63 1552.8,936.72 1651.8,904.34 1750.8,876.59 1849.8,853.16" stroke="#77AC30" stroke-width="2.5" fill="none" stroke-linejoin="round"/>
<polygon clip-path="url(#c3)" points="1156.8,678.33 1206.3,678.77 1255.8,679.21 1354.8,680.1 1453.8,680.98 1552.8,681.86 1651.8,682.74 1750.8,683.62 1849.8,684.5 1849.8,783.17 1750.8,782.29 1651.8,781.4 1552.8,780.52 1453.8,779.64 1354.8,778.76 1255.8,777.88 1206.3,777.44 1156.8,777" fill="#000" fill-opacity="0.2" stroke="#000000" stroke-opacity="0.3" stroke-width="1.0"/>
<polyline clip-path="url(#c3)" points="1156.8,727.67 1206.3,728.11 1255.8,728.55 1354.8,729.43 1453.8,730.31 1552.8,731.19 1651.8,732.07 1750.8,732.95 1849.8,733.83" stroke="#000" stroke-width="2.5" fill="none" stroke-linejoin="round"/>
<path d="M1156.8 1036v-7M1156.8 666v7M1255.8 1036v-7M1255.8 666v7M1354.8 1036v-7M1354.8 666v7M1453.8 1036v-7M1453.8 666v7M1552.8 1036v-7M1552.8 666v7M1651.8 1036v-7M1651.8 666v7M1750.8 1036v-7M1750.8 666v7M1849.8 1036v-7M1849.8 666v7M1156.8 1036h7M1849.8 1036h-7M1156.8 974.33h7M1849.8 974.33h-7M1156.8 912.67h7M1849.8 912.67h-7M1156.8 851h7M1849.8 851h-7M1156.8 789.33h7M1849.8 789.33h-7M1156.8 727.67h7M1849.8 727.67h-7M1156.8 666h7M1849.8 666h-7" stroke="#262626" stroke-width="1.1" fill="none"/>
<text x="1156.8" y="1066.9" text-anchor="middle" class="tk">0</text>
<text x="1255.8" y="1066.9" text-anchor="middle" class="tk">1</text>
<text x="1354.8" y="1066.9" text-anchor="middle" class="tk">2</text>
<text x="1453.8" y="1066.9" text-anchor="middle" class="tk">3</text>
<text x="1552.8" y="1066.9" text-anchor="middle" class="tk">4</text>
<text x="1651.8" y="1066.9" text-anchor="middle" class="tk">5</text>
<text x="1750.8" y="1066.9" text-anchor="middle" class="tk">6</text>
<text x="1849.8" y="1066.9" text-anchor="middle" class="tk">7</text>
<text x="1147.4" y="1045" text-anchor="end" class="tk">0</text>
<text x="1147.4" y="983.33" text-anchor="end" class="tk">0.2</text>
<text x="1147.4" y="921.67" text-anchor="end" class="tk">0.4</text>
<text x="1147.4" y="860" text-anchor="end" class="tk">0.6</text>
<text x="1147.4" y="798.33" text-anchor="end" class="tk">0.8</text>
<text x="1147.4" y="736.67" text-anchor="end" class="tk">1</text>
<text x="1147.4" y="675" text-anchor="end" class="tk">1.2</text>
<text x="1504.8" y="1096.3" text-anchor="middle" class="lab">Time (h)</text>
<text transform="translate(1107,853.6) rotate(-90)" x="0" y="0" text-anchor="middle" class="lab">Non-Dimensional Concentration</text>
<text x="1504" y="624.8" text-anchor="middle" class="ttl">I =20mA/cm<tspan dx="4.0" dy="-11.4" font-size="20" font-weight="bold" stroke-width="0.8">2</tspan></text>
<text x="1503.3" y="656.5" text-anchor="middle" class="ttl">T =22°C</text>
<clipPath id="c4"><rect x="245.5" y="1175.5" width="693.2" height="370.1"/></clipPath>
<clipPath id="cw4"><rect x="233.5" y="1175.5" width="717.2" height="370.1"/></clipPath>
<rect x="245.5" y="1175.5" width="693.2" height="370.1" fill="none" stroke="#262626" stroke-width="1.1"/>
<path clip-path="url(#cw4)" d="M245.5 1212.51V1261.86M240.9 1212.51H250.1M240.9 1261.86H250.1M295.01 1243.35V1288.38M290.41 1243.35H299.61M290.41 1288.38H299.61M344.53 1263.71V1314.9M339.93 1263.71H349.13M339.93 1314.9H349.13M443.56 1324.77V1369.19M438.96 1324.77H448.16M438.96 1369.19H448.16M542.59 1397.25V1423.16M537.99 1397.25H547.19M537.99 1423.16H547.19M641.61 1458.93V1468.19M637.01 1458.93H646.21M637.01 1468.19H646.21M740.64 1488.54V1505.2M736.04 1488.54H745.24M736.04 1505.2H745.24M839.67 1511.67V1516.61M835.07 1511.67H844.27M835.07 1516.61H844.27M938.7 1515.99V1520.93M934.1 1515.99H943.3M934.1 1520.93H943.3" stroke="#0072BD" stroke-width="2.5" fill="none"/>
<circle cx="245.5" cy="1237.18" r="4.45" stroke="#0072BD" stroke-width="2.3" fill="none"/>
<circle cx="295.01" cy="1265.87" r="4.45" stroke="#0072BD" stroke-width="2.3" fill="none"/>
<circle cx="344.53" cy="1289.31" r="4.45" stroke="#0072BD" stroke-width="2.3" fill="none"/>
<circle cx="443.56" cy="1346.98" r="4.45" stroke="#0072BD" stroke-width="2.3" fill="none"/>
<circle cx="542.59" cy="1410.21" r="4.45" stroke="#0072BD" stroke-width="2.3" fill="none"/>
<circle cx="641.61" cy="1463.56" r="4.45" stroke="#0072BD" stroke-width="2.3" fill="none"/>
<circle cx="740.64" cy="1496.87" r="4.45" stroke="#0072BD" stroke-width="2.3" fill="none"/>
<circle cx="839.67" cy="1514.14" r="4.45" stroke="#0072BD" stroke-width="2.3" fill="none"/>
<circle cx="938.7" cy="1518.46" r="4.45" stroke="#0072BD" stroke-width="2.3" fill="none"/>
<path clip-path="url(#cw4)" d="M245.5 1544.06V1547.14M240.9 1544.06H250.1M240.9 1547.14H250.1M295.01 1518.46V1523.39M290.41 1518.46H299.61M290.41 1523.39H299.61M344.53 1490.7V1496.87M339.93 1490.7H349.13M339.93 1496.87H349.13M443.56 1445.36V1462.64M438.96 1445.36H448.16M438.96 1462.64H448.16M542.59 1429.64V1451.84M537.99 1429.64H547.19M537.99 1451.84H547.19M641.61 1426.55V1449.99M637.01 1426.55H646.21M637.01 1449.99H646.21M740.64 1433.64V1460.79M736.04 1433.64H745.24M736.04 1460.79H745.24M839.67 1449.37V1474.66M835.07 1449.37H844.27M835.07 1474.66H844.27M938.7 1464.49V1484.84M934.1 1464.49H943.3M934.1 1484.84H943.3" stroke="#A2142F" stroke-width="2.5" fill="none"/>
<circle cx="245.5" cy="1545.6" r="4.45" stroke="#A2142F" stroke-width="2.3" fill="none"/>
<circle cx="295.01" cy="1520.93" r="4.45" stroke="#A2142F" stroke-width="2.3" fill="none"/>
<circle cx="344.53" cy="1493.79" r="4.45" stroke="#A2142F" stroke-width="2.3" fill="none"/>
<circle cx="443.56" cy="1454" r="4.45" stroke="#A2142F" stroke-width="2.3" fill="none"/>
<circle cx="542.59" cy="1440.74" r="4.45" stroke="#A2142F" stroke-width="2.3" fill="none"/>
<circle cx="641.61" cy="1438.27" r="4.45" stroke="#A2142F" stroke-width="2.3" fill="none"/>
<circle cx="740.64" cy="1447.22" r="4.45" stroke="#A2142F" stroke-width="2.3" fill="none"/>
<circle cx="839.67" cy="1462.02" r="4.45" stroke="#A2142F" stroke-width="2.3" fill="none"/>
<circle cx="938.7" cy="1474.66" r="4.45" stroke="#A2142F" stroke-width="2.3" fill="none"/>
<path clip-path="url(#cw4)" d="M245.5 1545.6V1545.6M240.9 1545.6H250.1M240.9 1545.6H250.1M295.01 1538.81V1544.98M290.41 1538.81H299.61M290.41 1544.98H299.61M344.53 1531.72V1539.74M339.93 1531.72H349.13M339.93 1539.74H349.13M443.56 1505.81V1519.38M438.96 1505.81H448.16M438.96 1519.38H448.16M542.59 1464.79V1488.23M537.99 1464.79H547.19M537.99 1488.23H547.19M641.61 1425.01V1451.53M637.01 1425.01H646.21M637.01 1451.53H646.21M740.64 1374.43V1409.59M736.04 1374.43H745.24M736.04 1409.59H745.24M839.67 1345.44V1379.98M835.07 1345.44H844.27M835.07 1379.98H844.27M938.7 1315.21V1353.46M934.1 1315.21H943.3M934.1 1353.46H943.3" stroke="#77AC30" stroke-width="2.5" fill="none"/>
<circle cx="245.5" cy="1545.6" r="4.45" stroke="#77AC30" stroke-width="2.3" fill="none"/>
<circle cx="295.01" cy="1541.9" r="4.45" stroke="#77AC30" stroke-width="2.3" fill="none"/>
<circle cx="344.53" cy="1535.73" r="4.45" stroke="#77AC30" stroke-width="2.3" fill="none"/>
<circle cx="443.56" cy="1512.6" r="4.45" stroke="#77AC30" stroke-width="2.3" fill="none"/>
<circle cx="542.59" cy="1476.51" r="4.45" stroke="#77AC30" stroke-width="2.3" fill="none"/>
<circle cx="641.61" cy="1438.27" r="4.45" stroke="#77AC30" stroke-width="2.3" fill="none"/>
<circle cx="740.64" cy="1392.01" r="4.45" stroke="#77AC30" stroke-width="2.3" fill="none"/>
<circle cx="839.67" cy="1362.71" r="4.45" stroke="#77AC30" stroke-width="2.3" fill="none"/>
<circle cx="938.7" cy="1334.33" r="4.45" stroke="#77AC30" stroke-width="2.3" fill="none"/>
<path clip-path="url(#cw4)" d="M245.5 1210.04V1264.32M240.9 1210.04H250.1M240.9 1264.32H250.1M295.01 1211.89V1261.24M290.41 1211.89H299.61M290.41 1261.24H299.61M344.53 1199.56V1253.22M339.93 1199.56H349.13M339.93 1253.22H349.13M443.56 1196.78V1246.13M438.96 1196.78H448.16M438.96 1246.13H448.16M542.59 1215.9V1257.23M537.99 1215.9H547.19M537.99 1257.23H547.19M641.61 1226.7V1266.79M637.01 1226.7H646.21M637.01 1266.79H646.21M740.64 1219.91V1269.26M736.04 1219.91H745.24M736.04 1269.26H745.24M839.67 1224.54V1268.95M835.07 1224.54H844.27M835.07 1268.95H844.27M938.7 1214.36V1258.77M934.1 1214.36H943.3M934.1 1258.77H943.3" stroke="#000" stroke-width="2.5" fill="none"/>
<circle cx="245.5" cy="1237.18" r="4.45" stroke="#000" stroke-width="2.3" fill="none"/>
<circle cx="295.01" cy="1236.57" r="4.45" stroke="#000" stroke-width="2.3" fill="none"/>
<circle cx="344.53" cy="1226.39" r="4.45" stroke="#000" stroke-width="2.3" fill="none"/>
<circle cx="443.56" cy="1221.45" r="4.45" stroke="#000" stroke-width="2.3" fill="none"/>
<circle cx="542.59" cy="1236.57" r="4.45" stroke="#000" stroke-width="2.3" fill="none"/>
<circle cx="641.61" cy="1246.74" r="4.45" stroke="#000" stroke-width="2.3" fill="none"/>
<circle cx="740.64" cy="1244.59" r="4.45" stroke="#000" stroke-width="2.3" fill="none"/>
<circle cx="839.67" cy="1246.74" r="4.45" stroke="#000" stroke-width="2.3" fill="none"/>
<circle cx="938.7" cy="1236.57" r="4.45" stroke="#000" stroke-width="2.3" fill="none"/>
<polygon clip-path="url(#c4)" points="245.5,1208.81 295.01,1238.42 344.53,1272.65 443.56,1323.23 542.59,1363.63 641.61,1395.4 740.64,1420.07 839.67,1440.43 938.7,1457.08 938.7,1513.83 839.67,1497.18 740.64,1476.82 641.61,1452.15 542.59,1420.38 443.56,1379.98 344.53,1329.4 295.01,1295.17 245.5,1265.56" fill="#0000FF" fill-opacity="0.2" stroke="#00007f" stroke-opacity="0.38" stroke-width="1.0"/>
<polyline clip-path="url(#c4)" points="245.5,1237.18 295.01,1266.79 344.53,1301.03 443.56,1351.61 542.59,1392.01 641.61,1423.78 740.64,1448.45 839.67,1468.8 938.7,1485.46" stroke="#0000FF" stroke-width="2.5" fill="none" stroke-linejoin="round"/>
<polygon clip-path="url(#c4)" points="245.5,1517.23 295.01,1487.93 344.53,1463.87 443.56,1436.11 542.59,1426.86 641.61,1426.86 740.64,1431.49 839.67,1439.5 938.7,1449.37 938.7,1506.12 839.67,1496.25 740.64,1488.23 641.61,1483.61 542.59,1483.61 443.56,1492.86 344.53,1520.62 295.01,1544.67 245.5,1573.97" fill="#A2142F" fill-opacity="0.2" stroke="#510a17" stroke-opacity="0.38" stroke-width="1.0"/>
<polyline clip-path="url(#c4)" points="245.5,1545.6 295.01,1516.3 344.53,1492.24 443.56,1464.49 542.59,1455.23 641.61,1455.23 740.64,1459.86 839.67,1467.88 938.7,1477.75" stroke="#A2142F" stroke-width="2.5" fill="none" stroke-linejoin="round"/>
<polygon clip-path="url(#c4)" points="245.5,1517.23 295.01,1514.14 344.53,1505.81 443.56,1483.3 542.59,1454 641.61,1422.54 740.64,1393.24 839.67,1366.1 938.7,1342.05 938.7,1398.79 839.67,1422.85 740.64,1449.99 641.61,1479.29 542.59,1510.75 443.56,1540.05 344.53,1562.56 295.01,1570.89 245.5,1573.97" fill="#77AC30" fill-opacity="0.2" stroke="#3b5618" stroke-opacity="0.38" stroke-width="1.0"/>
<polyline clip-path="url(#c4)" points="245.5,1545.6 295.01,1542.52 344.53,1534.19 443.56,1511.67 542.59,1482.37 641.61,1450.92 740.64,1421.62 839.67,1394.48 938.7,1370.42" stroke="#77AC30" stroke-width="2.5" fill="none" stroke-linejoin="round"/>
<polygon clip-path="url(#c4)" points="245.5,1187.84 295.01,1188.28 344.53,1188.72 443.56,1189.6 542.59,1190.48 641.61,1191.36 740.64,1192.24 839.67,1193.12 938.7,1194.01 938.7,1292.7 839.67,1291.82 740.64,1290.94 641.61,1290.05 542.59,1289.17 443.56,1288.29 344.53,1287.41 295.01,1286.97 245.5,1286.53" fill="#000" fill-opacity="0.2" stroke="#000000" stroke-opacity="0.3" stroke-width="1.0"/>
<polyline clip-path="url(#c4)" points="245.5,1237.18 295.01,1237.62 344.53,1238.06 443.56,1238.95 542.59,1239.83 641.61,1240.71 740.64,1241.59 839.67,1242.47 938.7,1243.35" stroke="#000" stroke-width="2.5" fill="none" stroke-linejoin="round"/>
<path d="M245.5 1545.6v-7M245.5 1175.5v7M344.53 1545.6v-7M344.53 1175.5v7M443.56 1545.6v-7M443.56 1175.5v7M542.59 1545.6v-7M542.59 1175.5v7M641.61 1545.6v-7M641.61 1175.5v7M740.64 1545.6v-7M740.64 1175.5v7M839.67 1545.6v-7M839.67 1175.5v7M938.7 1545.6v-7M938.7 1175.5v7M245.5 1545.6h7M938.7 1545.6h-7M245.5 1483.92h7M938.7 1483.92h-7M245.5 1422.23h7M938.7 1422.23h-7M245.5 1360.55h7M938.7 1360.55h-7M245.5 1298.87h7M938.7 1298.87h-7M245.5 1237.18h7M938.7 1237.18h-7M245.5 1175.5h7M938.7 1175.5h-7" stroke="#262626" stroke-width="1.1" fill="none"/>
<text x="245.5" y="1576.5" text-anchor="middle" class="tk">0</text>
<text x="344.53" y="1576.5" text-anchor="middle" class="tk">1</text>
<text x="443.56" y="1576.5" text-anchor="middle" class="tk">2</text>
<text x="542.59" y="1576.5" text-anchor="middle" class="tk">3</text>
<text x="641.61" y="1576.5" text-anchor="middle" class="tk">4</text>
<text x="740.64" y="1576.5" text-anchor="middle" class="tk">5</text>
<text x="839.67" y="1576.5" text-anchor="middle" class="tk">6</text>
<text x="938.7" y="1576.5" text-anchor="middle" class="tk">7</text>
<text x="236.1" y="1554.6" text-anchor="end" class="tk">0</text>
<text x="236.1" y="1492.92" text-anchor="end" class="tk">0.2</text>
<text x="236.1" y="1431.23" text-anchor="end" class="tk">0.4</text>
<text x="236.1" y="1369.55" text-anchor="end" class="tk">0.6</text>
<text x="236.1" y="1307.87" text-anchor="end" class="tk">0.8</text>
<text x="236.1" y="1246.18" text-anchor="end" class="tk">1</text>
<text x="236.1" y="1184.5" text-anchor="end" class="tk">1.2</text>
<text x="593.6" y="1605.9" text-anchor="middle" class="lab">Time (h)</text>
<text transform="translate(195.7,1363.15) rotate(-90)" x="0" y="0" text-anchor="middle" class="lab">Non-Dimensional Concentration</text>
<text x="592.8" y="1134.3" text-anchor="middle" class="ttl">I =15mA/cm<tspan dx="4.0" dy="-11.4" font-size="20" font-weight="bold" stroke-width="0.8">2</tspan></text>
<text x="592.1" y="1166" text-anchor="middle" class="ttl">T =30°C</text>
<clipPath id="c5"><rect x="1159.4" y="1175.5" width="693.6" height="370.1"/></clipPath>
<clipPath id="cw5"><rect x="1147.4" y="1175.5" width="717.6" height="370.1"/></clipPath>
<rect x="1159.4" y="1175.5" width="693.6" height="370.1" fill="none" stroke="#262626" stroke-width="1.1"/>
<path clip-path="url(#cw5)" d="M1159.4 1206.34V1268.03M1154.8 1206.34H1164M1154.8 1268.03H1164M1208.94 1209.43V1297.63M1204.34 1209.43H1213.54M1204.34 1297.63H1213.54M1258.49 1243.04V1318.3M1253.89 1243.04H1263.09M1253.89 1318.3H1263.09M1357.57 1299.18V1367.64M1352.97 1299.18H1362.17M1352.97 1367.64H1362.17M1456.66 1381.83V1426.86M1452.06 1381.83H1461.26M1452.06 1426.86H1461.26M1555.74 1450.92V1482.37M1551.14 1450.92H1560.34M1551.14 1482.37H1560.34M1654.83 1496.56V1508.9M1650.23 1496.56H1659.43M1650.23 1508.9H1659.43M1753.91 1510.75V1520M1749.31 1510.75H1758.51M1749.31 1520H1758.51M1853 1518.46V1527.71M1848.4 1518.46H1857.6M1848.4 1527.71H1857.6" stroke="#0072BD" stroke-width="2.5" fill="none"/>
<circle cx="1159.4" cy="1237.18" r="4.45" stroke="#0072BD" stroke-width="2.3" fill="none"/>
<circle cx="1208.94" cy="1253.53" r="4.45" stroke="#0072BD" stroke-width="2.3" fill="none"/>
<circle cx="1258.49" cy="1280.67" r="4.45" stroke="#0072BD" stroke-width="2.3" fill="none"/>
<circle cx="1357.57" cy="1333.41" r="4.45" stroke="#0072BD" stroke-width="2.3" fill="none"/>
<circle cx="1456.66" cy="1404.35" r="4.45" stroke="#0072BD" stroke-width="2.3" fill="none"/>
<circle cx="1555.74" cy="1466.65" r="4.45" stroke="#0072BD" stroke-width="2.3" fill="none"/>
<circle cx="1654.83" cy="1502.73" r="4.45" stroke="#0072BD" stroke-width="2.3" fill="none"/>
<circle cx="1753.91" cy="1515.38" r="4.45" stroke="#0072BD" stroke-width="2.3" fill="none"/>
<circle cx="1853" cy="1523.09" r="4.45" stroke="#0072BD" stroke-width="2.3" fill="none"/>
<path clip-path="url(#cw5)" d="M1159.4 1544.06V1547.14M1154.8 1544.06H1164M1154.8 1547.14H1164M1208.94 1513.52V1520.93M1204.34 1513.52H1213.54M1204.34 1520.93H1213.54M1258.49 1481.45V1496.87M1253.89 1481.45H1263.09M1253.89 1496.87H1263.09M1357.57 1431.79V1463.25M1352.97 1431.79H1362.17M1352.97 1463.25H1362.17M1456.66 1411.75V1462.94M1452.06 1411.75H1461.26M1452.06 1462.94H1461.26M1555.74 1411.44V1462.64M1551.14 1411.44H1560.34M1551.14 1462.64H1560.34M1654.83 1427.48V1455.85M1650.23 1427.48H1659.43M1650.23 1455.85H1659.43M1753.91 1453.38V1478.06M1749.31 1453.38H1758.51M1749.31 1478.06H1758.51M1853 1461.4V1536.66M1848.4 1461.4H1857.6M1848.4 1536.66H1857.6" stroke="#A2142F" stroke-width="2.5" fill="none"/>
<circle cx="1159.4" cy="1545.6" r="4.45" stroke="#A2142F" stroke-width="2.3" fill="none"/>
<circle cx="1208.94" cy="1517.23" r="4.45" stroke="#A2142F" stroke-width="2.3" fill="none"/>
<circle cx="1258.49" cy="1489.16" r="4.45" stroke="#A2142F" stroke-width="2.3" fill="none"/>
<circle cx="1357.57" cy="1447.52" r="4.45" stroke="#A2142F" stroke-width="2.3" fill="none"/>
<circle cx="1456.66" cy="1437.35" r="4.45" stroke="#A2142F" stroke-width="2.3" fill="none"/>
<circle cx="1555.74" cy="1437.04" r="4.45" stroke="#A2142F" stroke-width="2.3" fill="none"/>
<circle cx="1654.83" cy="1441.66" r="4.45" stroke="#A2142F" stroke-width="2.3" fill="none"/>
<circle cx="1753.91" cy="1465.72" r="4.45" stroke="#A2142F" stroke-width="2.3" fill="none"/>
<circle cx="1853" cy="1499.03" r="4.45" stroke="#A2142F" stroke-width="2.3" fill="none"/>
<path clip-path="url(#cw5)" d="M1208.94 1537.89V1544.06M1204.34 1537.89H1213.54M1204.34 1544.06H1213.54M1258.49 1528.02V1534.19M1253.89 1528.02H1263.09M1253.89 1534.19H1263.09M1357.57 1497.18V1508.28M1352.97 1497.18H1362.17M1352.97 1508.28H1362.17M1456.66 1455.23V1473.74M1452.06 1455.23H1461.26M1452.06 1473.74H1461.26M1555.74 1401.26V1432.72M1551.14 1401.26H1560.34M1551.14 1432.72H1560.34M1654.83 1348.21V1395.71M1650.23 1348.21H1659.43M1650.23 1395.71H1659.43M1753.91 1307.19V1362.71M1749.31 1307.19H1758.51M1749.31 1362.71H1758.51M1853 1284.68V1346.36M1848.4 1284.68H1857.6M1848.4 1346.36H1857.6" stroke="#77AC30" stroke-width="2.5" fill="none"/>
<circle cx="1208.94" cy="1540.97" r="4.45" stroke="#77AC30" stroke-width="2.3" fill="none"/>
<circle cx="1258.49" cy="1531.1" r="4.45" stroke="#77AC30" stroke-width="2.3" fill="none"/>
<circle cx="1357.57" cy="1502.73" r="4.45" stroke="#77AC30" stroke-width="2.3" fill="none"/>
<circle cx="1456.66" cy="1464.49" r="4.45" stroke="#77AC30" stroke-width="2.3" fill="none"/>
<circle cx="1555.74" cy="1416.99" r="4.45" stroke="#77AC30" stroke-width="2.3" fill="none"/>
<circle cx="1654.83" cy="1371.96" r="4.45" stroke="#77AC30" stroke-width="2.3" fill="none"/>
<circle cx="1753.91" cy="1334.95" r="4.45" stroke="#77AC30" stroke-width="2.3" fill="none"/>
<circle cx="1853" cy="1315.52" r="4.45" stroke="#77AC30" stroke-width="2.3" fill="none"/>
<path clip-path="url(#cw5)" d="M1159.4 1190.92V1282.21M1154.8 1190.92H1164M1154.8 1282.21H1164M1208.94 1174.57V1264.63M1204.34 1174.57H1213.54M1204.34 1264.63H1213.54M1258.49 1172.42V1246.44M1253.89 1172.42H1263.09M1253.89 1246.44H1263.09M1357.57 1154.53V1229.78M1352.97 1154.53H1362.17M1352.97 1229.78H1362.17M1456.66 1177.66V1249.83M1452.06 1177.66H1461.26M1452.06 1249.83H1461.26M1555.74 1195.55V1264.02M1551.14 1195.55H1560.34M1551.14 1264.02H1560.34M1654.83 1197.4V1252.91M1650.23 1197.4H1659.43M1650.23 1252.91H1659.43M1753.91 1194.93V1255.38M1749.31 1194.93H1758.51M1749.31 1255.38H1758.51M1853 1197.4V1295.47M1848.4 1197.4H1857.6M1848.4 1295.47H1857.6" stroke="#000" stroke-width="2.5" fill="none"/>
<circle cx="1159.4" cy="1236.57" r="4.45" stroke="#000" stroke-width="2.3" fill="none"/>
<circle cx="1208.94" cy="1219.6" r="4.45" stroke="#000" stroke-width="2.3" fill="none"/>
<circle cx="1258.49" cy="1209.43" r="4.45" stroke="#000" stroke-width="2.3" fill="none"/>
<circle cx="1357.57" cy="1192.15" r="4.45" stroke="#000" stroke-width="2.3" fill="none"/>
<circle cx="1456.66" cy="1213.74" r="4.45" stroke="#000" stroke-width="2.3" fill="none"/>
<circle cx="1555.74" cy="1229.78" r="4.45" stroke="#000" stroke-width="2.3" fill="none"/>
<circle cx="1654.83" cy="1225.16" r="4.45" stroke="#000" stroke-width="2.3" fill="none"/>
<circle cx="1753.91" cy="1225.16" r="4.45" stroke="#000" stroke-width="2.3" fill="none"/>
<circle cx="1853" cy="1246.44" r="4.45" stroke="#000" stroke-width="2.3" fill="none"/>
<polygon clip-path="url(#c5)" points="1159.4,1208.81 1208.94,1244.89 1258.49,1281.6 1357.57,1336.8 1456.66,1378.75 1555.74,1410.21 1654.83,1436.11 1753.91,1454.93 1853,1470.65 1853,1527.4 1753.91,1511.67 1654.83,1492.86 1555.74,1466.95 1456.66,1435.5 1357.57,1393.55 1258.49,1338.34 1208.94,1301.64 1159.4,1265.56" fill="#0000FF" fill-opacity="0.2" stroke="#00007f" stroke-opacity="0.38" stroke-width="1.0"/>
<polyline clip-path="url(#c5)" points="1159.4,1237.18 1208.94,1273.27 1258.49,1309.97 1357.57,1365.18 1456.66,1407.12 1555.74,1438.58 1654.83,1464.49 1753.91,1483.3 1853,1499.03" stroke="#0000FF" stroke-width="2.5" fill="none" stroke-linejoin="round"/>
<polygon clip-path="url(#c5)" points="1159.4,1517.23 1208.94,1482.37 1258.49,1457.7 1357.57,1432.41 1456.66,1424.7 1555.74,1429.33 1654.83,1437.04 1753.91,1448.76 1853,1458.63 1853,1515.38 1753.91,1505.51 1654.83,1493.79 1555.74,1486.08 1456.66,1481.45 1357.57,1489.16 1258.49,1514.45 1208.94,1539.12 1159.4,1573.97" fill="#A2142F" fill-opacity="0.2" stroke="#510a17" stroke-opacity="0.38" stroke-width="1.0"/>
<polyline clip-path="url(#c5)" points="1159.4,1545.6 1208.94,1510.75 1258.49,1486.08 1357.57,1460.79 1456.66,1453.07 1555.74,1457.7 1654.83,1465.41 1753.91,1477.13 1853,1487" stroke="#A2142F" stroke-width="2.5" fill="none" stroke-linejoin="round"/>
<polygon clip-path="url(#c5)" points="1159.4,1517.23 1208.94,1515.07 1258.49,1504.58 1357.57,1476.51 1456.66,1441.97 1555.74,1408.05 1654.83,1375.05 1753.91,1345.75 1853,1322.31 1853,1379.05 1753.91,1402.49 1654.83,1431.79 1555.74,1464.79 1456.66,1498.72 1357.57,1533.26 1258.49,1561.33 1208.94,1571.82 1159.4,1573.97" fill="#77AC30" fill-opacity="0.2" stroke="#3b5618" stroke-opacity="0.38" stroke-width="1.0"/>
<polyline clip-path="url(#c5)" points="1159.4,1545.6 1208.94,1543.44 1258.49,1532.95 1357.57,1504.89 1456.66,1470.35 1555.74,1436.42 1654.83,1403.42 1753.91,1374.12 1853,1350.68" stroke="#77AC30" stroke-width="2.5" fill="none" stroke-linejoin="round"/>
<polygon clip-path="url(#c5)" points="1159.4,1187.84 1208.94,1188.5 1258.49,1189.16 1357.57,1190.48 1456.66,1191.8 1555.74,1193.12 1654.83,1194.45 1753.91,1195.77 1853,1197.09 1853,1295.78 1753.91,1294.46 1654.83,1293.14 1555.74,1291.82 1456.66,1290.5 1357.57,1289.17 1258.49,1287.85 1208.94,1287.19 1159.4,1286.53" fill="#000" fill-opacity="0.2" stroke="#000000" stroke-opacity="0.3" stroke-width="1.0"/>
<polyline clip-path="url(#c5)" points="1159.4,1237.18 1208.94,1237.84 1258.49,1238.51 1357.57,1239.83 1456.66,1241.15 1555.74,1242.47 1654.83,1243.79 1753.91,1245.11 1853,1246.44" stroke="#000" stroke-width="2.5" fill="none" stroke-linejoin="round"/>
<path d="M1159.4 1545.6v-7M1159.4 1175.5v7M1258.49 1545.6v-7M1258.49 1175.5v7M1357.57 1545.6v-7M1357.57 1175.5v7M1456.66 1545.6v-7M1456.66 1175.5v7M1555.74 1545.6v-7M1555.74 1175.5v7M1654.83 1545.6v-7M1654.83 1175.5v7M1753.91 1545.6v-7M1753.91 1175.5v7M1853 1545.6v-7M1853 1175.5v7M1159.4 1545.6h7M1853 1545.6h-7M1159.4 1483.92h7M1853 1483.92h-7M1159.4 1422.23h7M1853 1422.23h-7M1159.4 1360.55h7M1853 1360.55h-7M1159.4 1298.87h7M1853 1298.87h-7M1159.4 1237.18h7M1853 1237.18h-7M1159.4 1175.5h7M1853 1175.5h-7" stroke="#262626" stroke-width="1.1" fill="none"/>
<text x="1159.4" y="1576.5" text-anchor="middle" class="tk">0</text>
<text x="1258.49" y="1576.5" text-anchor="middle" class="tk">1</text>
<text x="1357.57" y="1576.5" text-anchor="middle" class="tk">2</text>
<text x="1456.66" y="1576.5" text-anchor="middle" class="tk">3</text>
<text x="1555.74" y="1576.5" text-anchor="middle" class="tk">4</text>
<text x="1654.83" y="1576.5" text-anchor="middle" class="tk">5</text>
<text x="1753.91" y="1576.5" text-anchor="middle" class="tk">6</text>
<text x="1853" y="1576.5" text-anchor="middle" class="tk">7</text>
<text x="1150" y="1554.6" text-anchor="end" class="tk">0</text>
<text x="1150" y="1492.92" text-anchor="end" class="tk">0.2</text>
<text x="1150" y="1431.23" text-anchor="end" class="tk">0.4</text>
<text x="1150" y="1369.55" text-anchor="end" class="tk">0.6</text>
<text x="1150" y="1307.87" text-anchor="end" class="tk">0.8</text>
<text x="1150" y="1246.18" text-anchor="end" class="tk">1</text>
<text x="1150" y="1184.5" text-anchor="end" class="tk">1.2</text>
<text x="1507.7" y="1605.9" text-anchor="middle" class="lab">Time (h)</text>
<text transform="translate(1109.6,1363.15) rotate(-90)" x="0" y="0" text-anchor="middle" class="lab">Non-Dimensional Concentration</text>
<text x="1506.9" y="1134.3" text-anchor="middle" class="ttl">I =15mA/cm<tspan dx="4.0" dy="-11.4" font-size="20" font-weight="bold" stroke-width="0.8">2</tspan></text>
<text x="1506.2" y="1166" text-anchor="middle" class="ttl">T =40°C</text>
<clipPath id="c6"><rect x="246" y="1680" width="693.6" height="370"/></clipPath>
<clipPath id="cw6"><rect x="234" y="1680" width="717.6" height="370"/></clipPath>
<rect x="246" y="1680" width="693.6" height="370" fill="none" stroke="#262626" stroke-width="1.1"/>
<path clip-path="url(#cw6)" d="M246 1693.26V1790.08M241.4 1693.26H250.6M241.4 1790.08H250.6M295.54 1725.02V1820.6M290.94 1725.02H300.14M290.94 1820.6H300.14M345.09 1745.37V1820.6M340.49 1745.37H349.69M340.49 1820.6H349.69M444.17 1822.14V1883.19M439.57 1822.14H448.77M439.57 1883.19H448.77M543.26 1892.44V1931.91M538.66 1892.44H547.86M538.66 1931.91H547.86M642.34 1960.28V1980.62M637.74 1960.28H646.94M637.74 1980.62H646.94M741.43 2006.83V2016.08M736.83 2006.83H746.03M736.83 2016.08H746.03M840.51 2021.33V2028.72M835.91 2021.33H845.11M835.91 2028.72H845.11M939.6 2025.95V2039.52M935 2025.95H944.2M935 2039.52H944.2" stroke="#0072BD" stroke-width="2.5" fill="none"/>
<circle cx="246" cy="1741.67" r="4.45" stroke="#0072BD" stroke-width="2.3" fill="none"/>
<circle cx="295.54" cy="1772.81" r="4.45" stroke="#0072BD" stroke-width="2.3" fill="none"/>
<circle cx="345.09" cy="1782.98" r="4.45" stroke="#0072BD" stroke-width="2.3" fill="none"/>
<circle cx="444.17" cy="1852.67" r="4.45" stroke="#0072BD" stroke-width="2.3" fill="none"/>
<circle cx="543.26" cy="1912.17" r="4.45" stroke="#0072BD" stroke-width="2.3" fill="none"/>
<circle cx="642.34" cy="1970.45" r="4.45" stroke="#0072BD" stroke-width="2.3" fill="none"/>
<circle cx="741.43" cy="2011.46" r="4.45" stroke="#0072BD" stroke-width="2.3" fill="none"/>
<circle cx="840.51" cy="2025.03" r="4.45" stroke="#0072BD" stroke-width="2.3" fill="none"/>
<circle cx="939.6" cy="2032.73" r="4.45" stroke="#0072BD" stroke-width="2.3" fill="none"/>
<path clip-path="url(#cw6)" d="M246 2045.38V2048.46M241.4 2045.38H250.6M241.4 2048.46H250.6M295.54 2025.03V2034.28M290.94 2025.03H300.14M290.94 2034.28H300.14M345.09 2004.06V2023.79M340.49 2004.06H349.69M340.49 2023.79H349.69M444.17 1955.96V1996.66M439.57 1955.96H448.77M439.57 1996.66H448.77M543.26 1929.13V1963.05M538.66 1929.13H547.86M538.66 1963.05H547.86M642.34 1935.3V1972.3M637.74 1935.3H646.94M637.74 1972.3H646.94M741.43 1963.36V1991.11M736.83 1963.36H746.03M736.83 1991.11H746.03M840.51 1970.76V1995.42M835.91 1970.76H845.11M835.91 1995.42H845.11M939.6 1990.18V2036.43M935 1990.18H944.2M935 2036.43H944.2" stroke="#A2142F" stroke-width="2.5" fill="none"/>
<circle cx="246" cy="2046.92" r="4.45" stroke="#A2142F" stroke-width="2.3" fill="none"/>
<circle cx="295.54" cy="2029.65" r="4.45" stroke="#A2142F" stroke-width="2.3" fill="none"/>
<circle cx="345.09" cy="2013.92" r="4.45" stroke="#A2142F" stroke-width="2.3" fill="none"/>
<circle cx="444.17" cy="1976.31" r="4.45" stroke="#A2142F" stroke-width="2.3" fill="none"/>
<circle cx="543.26" cy="1946.09" r="4.45" stroke="#A2142F" stroke-width="2.3" fill="none"/>
<circle cx="642.34" cy="1953.8" r="4.45" stroke="#A2142F" stroke-width="2.3" fill="none"/>
<circle cx="741.43" cy="1977.23" r="4.45" stroke="#A2142F" stroke-width="2.3" fill="none"/>
<circle cx="840.51" cy="1983.09" r="4.45" stroke="#A2142F" stroke-width="2.3" fill="none"/>
<circle cx="939.6" cy="2013.31" r="4.45" stroke="#A2142F" stroke-width="2.3" fill="none"/>
<path clip-path="url(#cw6)" d="M246 2050V2050M241.4 2050H250.6M241.4 2050H250.6M295.54 2047.84V2049.69M290.94 2047.84H300.14M290.94 2049.69H300.14M345.09 2033.04V2057.71M340.49 2033.04H349.69M340.49 2057.71H349.69M444.17 1996.66V2017.62M439.57 1996.66H448.77M439.57 2017.62H448.77M543.26 1955.03V1979.7M538.66 1955.03H547.86M538.66 1979.7H547.86M642.34 1905.08V1943.32M637.74 1905.08H646.94M637.74 1943.32H646.94M741.43 1856.98V1905.7M736.83 1856.98H746.03M736.83 1905.7H746.03M840.51 1820.6V1880.42M835.91 1820.6H845.11M835.91 1880.42H845.11M939.6 1799.33V1868.39M935 1799.33H944.2M935 1868.39H944.2" stroke="#77AC30" stroke-width="2.5" fill="none"/>
<circle cx="246" cy="2050" r="4.45" stroke="#77AC30" stroke-width="2.3" fill="none"/>
<circle cx="295.54" cy="2048.77" r="4.45" stroke="#77AC30" stroke-width="2.3" fill="none"/>
<circle cx="345.09" cy="2045.38" r="4.45" stroke="#77AC30" stroke-width="2.3" fill="none"/>
<circle cx="444.17" cy="2007.14" r="4.45" stroke="#77AC30" stroke-width="2.3" fill="none"/>
<circle cx="543.26" cy="1967.37" r="4.45" stroke="#77AC30" stroke-width="2.3" fill="none"/>
<circle cx="642.34" cy="1924.2" r="4.45" stroke="#77AC30" stroke-width="2.3" fill="none"/>
<circle cx="741.43" cy="1881.34" r="4.45" stroke="#77AC30" stroke-width="2.3" fill="none"/>
<circle cx="840.51" cy="1850.51" r="4.45" stroke="#77AC30" stroke-width="2.3" fill="none"/>
<circle cx="939.6" cy="1833.86" r="4.45" stroke="#77AC30" stroke-width="2.3" fill="none"/>
<path clip-path="url(#cw6)" d="M246 1693.57V1790.38M241.4 1693.57H250.6M241.4 1790.38H250.6M295.54 1702.2V1800.87M290.94 1702.2H300.14M290.94 1800.87H300.14M345.09 1701.28V1782.67M340.49 1701.28H349.69M340.49 1782.67H349.69M444.17 1697.27V1773.12M439.57 1697.27H448.77M439.57 1773.12H448.77M543.26 1696.96V1753.69M538.66 1696.96H547.86M538.66 1753.69H547.86M642.34 1719.47V1776.2M637.74 1719.47H646.94M637.74 1776.2H646.94M741.43 1740.12V1796.24M736.83 1740.12H746.03M736.83 1796.24H746.03M840.51 1725.33V1790.08M835.91 1725.33H845.11M835.91 1790.08H845.11M939.6 1736.42V1822.76M935 1736.42H944.2M935 1822.76H944.2" stroke="#000" stroke-width="2.5" fill="none"/>
<circle cx="246" cy="1741.97" r="4.45" stroke="#000" stroke-width="2.3" fill="none"/>
<circle cx="295.54" cy="1751.53" r="4.45" stroke="#000" stroke-width="2.3" fill="none"/>
<circle cx="345.09" cy="1741.97" r="4.45" stroke="#000" stroke-width="2.3" fill="none"/>
<circle cx="444.17" cy="1735.19" r="4.45" stroke="#000" stroke-width="2.3" fill="none"/>
<circle cx="543.26" cy="1725.33" r="4.45" stroke="#000" stroke-width="2.3" fill="none"/>
<circle cx="642.34" cy="1747.83" r="4.45" stroke="#000" stroke-width="2.3" fill="none"/>
<circle cx="741.43" cy="1768.18" r="4.45" stroke="#000" stroke-width="2.3" fill="none"/>
<circle cx="840.51" cy="1757.7" r="4.45" stroke="#000" stroke-width="2.3" fill="none"/>
<circle cx="939.6" cy="1779.59" r="4.45" stroke="#000" stroke-width="2.3" fill="none"/>
<polygon clip-path="url(#c6)" points="246,1713.3 295.54,1758.01 345.09,1793.16 444.17,1852.97 543.26,1898.3 642.34,1930.67 741.43,1954.72 840.51,1972.92 939.6,1985.56 939.6,2042.29 840.51,2029.65 741.43,2011.46 642.34,1987.41 543.26,1955.03 444.17,1909.71 345.09,1849.89 295.54,1814.74 246,1770.03" fill="#0000FF" fill-opacity="0.2" stroke="#00007f" stroke-opacity="0.38" stroke-width="1.0"/>
<polyline clip-path="url(#c6)" points="246,1741.67 295.54,1786.38 345.09,1821.53 444.17,1881.34 543.26,1926.67 642.34,1959.04 741.43,1983.09 840.51,2001.28 939.6,2013.92" stroke="#0000FF" stroke-width="2.5" fill="none" stroke-linejoin="round"/>
<polygon clip-path="url(#c6)" points="246,2021.63 295.54,1982.78 345.09,1956.88 444.17,1932.83 543.26,1929.13 642.34,1935.61 741.43,1946.4 840.51,1959.35 939.6,1971.99 939.6,2028.72 840.51,2016.08 741.43,2003.13 642.34,1992.34 543.26,1985.87 444.17,1989.57 345.09,2013.62 295.54,2039.52 246,2078.37" fill="#A2142F" fill-opacity="0.2" stroke="#510a17" stroke-opacity="0.38" stroke-width="1.0"/>
<polyline clip-path="url(#c6)" points="246,2050 295.54,2011.15 345.09,1985.25 444.17,1961.2 543.26,1957.5 642.34,1963.97 741.43,1974.77 840.51,1987.72 939.6,2000.36" stroke="#A2142F" stroke-width="2.5" fill="none" stroke-linejoin="round"/>
<polygon clip-path="url(#c6)" points="246,2021.63 295.54,2017.93 345.09,2005.91 444.17,1975.08 543.26,1932.22 642.34,1895.83 741.43,1861.92 840.51,1831.7 939.6,1807.65 939.6,1864.38 840.51,1888.43 741.43,1918.65 642.34,1952.57 543.26,1988.95 444.17,2031.81 345.09,2062.64 295.54,2074.67 246,2078.37" fill="#77AC30" fill-opacity="0.2" stroke="#3b5618" stroke-opacity="0.38" stroke-width="1.0"/>
<polyline clip-path="url(#c6)" points="246,2050 295.54,2046.3 345.09,2034.28 444.17,2003.44 543.26,1960.58 642.34,1924.2 741.43,1890.28 840.51,1860.07 939.6,1836.02" stroke="#77AC30" stroke-width="2.5" fill="none" stroke-linejoin="round"/>
<polygon clip-path="url(#c6)" points="246,1692.33 295.54,1692.93 345.09,1693.52 444.17,1694.71 543.26,1695.9 642.34,1697.09 741.43,1698.28 840.51,1699.47 939.6,1700.66 939.6,1799.33 840.51,1798.14 741.43,1796.95 642.34,1795.76 543.26,1794.57 444.17,1793.38 345.09,1792.19 295.54,1791.59 246,1791" fill="#000" fill-opacity="0.2" stroke="#000000" stroke-opacity="0.3" stroke-width="1.0"/>
<polyline clip-path="url(#c6)" points="246,1741.67 295.54,1742.26 345.09,1742.86 444.17,1744.05 543.26,1745.23 642.34,1746.42 741.43,1747.61 840.51,1748.8 939.6,1749.99" stroke="#000" stroke-width="2.5" fill="none" stroke-linejoin="round"/>
<path d="M246 2050v-7M246 1680v7M345.09 2050v-7M345.09 1680v7M444.17 2050v-7M444.17 1680v7M543.26 2050v-7M543.26 1680v7M642.34 2050v-7M642.34 1680v7M741.43 2050v-7M741.43 1680v7M840.51 2050v-7M840.51 1680v7M939.6 2050v-7M939.6 1680v7M246 2050h7M939.6 2050h-7M246 1988.33h7M939.6 1988.33h-7M246 1926.67h7M939.6 1926.67h-7M246 1865h7M939.6 1865h-7M246 1803.33h7M939.6 1803.33h-7M246 1741.67h7M939.6 1741.67h-7M246 1680h7M939.6 1680h-7" stroke="#262626" stroke-width="1.1" fill="none"/>
<text x="246" y="2080.9" text-anchor="middle" class="tk">0</text>
<text x="345.09" y="2080.9" text-anchor="middle" class="tk">1</text>
<text x="444.17" y="2080.9" text-anchor="middle" class="tk">2</text>
<text x="543.26" y="2080.9" text-anchor="middle" class="tk">3</text>
<text x="642.34" y="2080.9" text-anchor="middle" class="tk">4</text>
<text x="741.43" y="2080.9" text-anchor="middle" class="tk">5</text>
<text x="840.51" y="2080.9" text-anchor="middle" class="tk">6</text>
<text x="939.6" y="2080.9" text-anchor="middle" class="tk">7</text>
<text x="236.6" y="2059" text-anchor="end" class="tk">0</text>
<text x="236.6" y="1997.33" text-anchor="end" class="tk">0.2</text>
<text x="236.6" y="1935.67" text-anchor="end" class="tk">0.4</text>
<text x="236.6" y="1874" text-anchor="end" class="tk">0.6</text>
<text x="236.6" y="1812.33" text-anchor="end" class="tk">0.8</text>
<text x="236.6" y="1750.67" text-anchor="end" class="tk">1</text>
<text x="236.6" y="1689" text-anchor="end" class="tk">1.2</text>
<text x="594.3" y="2110.3" text-anchor="middle" class="lab">Time (h)</text>
<text transform="translate(196.2,1867.6) rotate(-90)" x="0" y="0" text-anchor="middle" class="lab">Non-Dimensional Concentration</text>
<text x="593.5" y="1638.8" text-anchor="middle" class="ttl">I =15mA/cm<tspan dx="4.0" dy="-11.4" font-size="20" font-weight="bold" stroke-width="0.8">2</tspan></text>
<text x="592.8" y="1670.5" text-anchor="middle" class="ttl">T =50°C</text>
<clipPath id="c7"><rect x="1159.4" y="1680" width="693.6" height="370"/></clipPath>
<clipPath id="cw7"><rect x="1147.4" y="1680" width="717.6" height="370"/></clipPath>
<rect x="1159.4" y="1680" width="693.6" height="370" fill="none" stroke="#262626" stroke-width="1.1"/>
<path clip-path="url(#cw7)" d="M1159.4 1717V1766.33M1154.8 1717H1164M1154.8 1766.33H1164M1208.94 1759.24V1804.26M1204.34 1759.24H1213.54M1204.34 1804.26H1213.54M1258.49 1778.97V1852.36M1253.89 1778.97H1263.09M1253.89 1852.36H1263.09M1357.57 1825.84V1882.58M1352.97 1825.84H1362.17M1352.97 1882.58H1362.17M1456.66 1915.26V1934.99M1452.06 1915.26H1461.26M1452.06 1934.99H1461.26M1555.74 1960.89V1987.41M1551.14 1960.89H1560.34M1551.14 1987.41H1560.34M1654.83 2005.6V2013M1650.23 2005.6H1659.43M1650.23 2013H1659.43M1753.91 2023.48V2028.42M1749.31 2023.48H1758.51M1749.31 2028.42H1758.51M1853 2028.11V2033.04M1848.4 2028.11H1857.6M1848.4 2033.04H1857.6" stroke="#0072BD" stroke-width="2.5" fill="none"/>
<circle cx="1159.4" cy="1741.67" r="4.45" stroke="#0072BD" stroke-width="2.3" fill="none"/>
<circle cx="1208.94" cy="1781.75" r="4.45" stroke="#0072BD" stroke-width="2.3" fill="none"/>
<circle cx="1258.49" cy="1815.67" r="4.45" stroke="#0072BD" stroke-width="2.3" fill="none"/>
<circle cx="1357.57" cy="1854.21" r="4.45" stroke="#0072BD" stroke-width="2.3" fill="none"/>
<circle cx="1456.66" cy="1925.12" r="4.45" stroke="#0072BD" stroke-width="2.3" fill="none"/>
<circle cx="1555.74" cy="1974.15" r="4.45" stroke="#0072BD" stroke-width="2.3" fill="none"/>
<circle cx="1654.83" cy="2009.3" r="4.45" stroke="#0072BD" stroke-width="2.3" fill="none"/>
<circle cx="1753.91" cy="2025.95" r="4.45" stroke="#0072BD" stroke-width="2.3" fill="none"/>
<circle cx="1853" cy="2030.58" r="4.45" stroke="#0072BD" stroke-width="2.3" fill="none"/>
<path clip-path="url(#cw7)" d="M1159.4 2043.83V2050M1154.8 2043.83H1164M1154.8 2050H1164M1208.94 2018.55V2024.72M1204.34 2018.55H1213.54M1204.34 2024.72H1213.54M1258.49 2001.59V2007.76M1253.89 2001.59H1263.09M1253.89 2007.76H1263.09M1357.57 1976V1984.02M1352.97 1976H1362.17M1352.97 1984.02H1362.17M1456.66 1953.49V1964.59M1452.06 1953.49H1461.26M1452.06 1964.59H1461.26M1555.74 1954.42V1971.07M1551.14 1954.42H1560.34M1551.14 1971.07H1560.34M1654.83 1977.54V1985.56M1650.23 1977.54H1659.43M1650.23 1985.56H1659.43M1753.91 1999.12V2005.29M1749.31 1999.12H1758.51M1749.31 2005.29H1758.51M1853 2016.08V2022.25M1848.4 2016.08H1857.6M1848.4 2022.25H1857.6" stroke="#A2142F" stroke-width="2.5" fill="none"/>
<circle cx="1159.4" cy="2046.92" r="4.45" stroke="#A2142F" stroke-width="2.3" fill="none"/>
<circle cx="1208.94" cy="2021.63" r="4.45" stroke="#A2142F" stroke-width="2.3" fill="none"/>
<circle cx="1258.49" cy="2004.67" r="4.45" stroke="#A2142F" stroke-width="2.3" fill="none"/>
<circle cx="1357.57" cy="1980.01" r="4.45" stroke="#A2142F" stroke-width="2.3" fill="none"/>
<circle cx="1456.66" cy="1959.04" r="4.45" stroke="#A2142F" stroke-width="2.3" fill="none"/>
<circle cx="1555.74" cy="1962.74" r="4.45" stroke="#A2142F" stroke-width="2.3" fill="none"/>
<circle cx="1654.83" cy="1981.55" r="4.45" stroke="#A2142F" stroke-width="2.3" fill="none"/>
<circle cx="1753.91" cy="2002.21" r="4.45" stroke="#A2142F" stroke-width="2.3" fill="none"/>
<circle cx="1853" cy="2019.17" r="4.45" stroke="#A2142F" stroke-width="2.3" fill="none"/>
<path clip-path="url(#cw7)" d="M1159.4 2043.83V2050M1154.8 2043.83H1164M1154.8 2050H1164M1208.94 2041.06V2047.22M1204.34 2041.06H1213.54M1204.34 2047.22H1213.54M1258.49 2031.81V2041.06M1253.89 2031.81H1263.09M1253.89 2041.06H1263.09M1357.57 2001.9V2011.15M1352.97 2001.9H1362.17M1352.97 2011.15H1362.17M1456.66 1958.42V1980.62M1452.06 1958.42H1461.26M1452.06 1980.62H1461.26M1555.74 1907.86V1943.62M1551.14 1907.86H1560.34M1551.14 1943.62H1560.34M1654.83 1891.83V1913.41M1650.23 1891.83H1659.43M1650.23 1913.41H1659.43M1753.91 1870.24V1894.91M1749.31 1870.24H1758.51M1749.31 1894.91H1758.51M1853 1848.04V1875.79M1848.4 1848.04H1857.6M1848.4 1875.79H1857.6" stroke="#77AC30" stroke-width="2.5" fill="none"/>
<circle cx="1159.4" cy="2046.92" r="4.45" stroke="#77AC30" stroke-width="2.3" fill="none"/>
<circle cx="1208.94" cy="2044.14" r="4.45" stroke="#77AC30" stroke-width="2.3" fill="none"/>
<circle cx="1258.49" cy="2036.43" r="4.45" stroke="#77AC30" stroke-width="2.3" fill="none"/>
<circle cx="1357.57" cy="2006.53" r="4.45" stroke="#77AC30" stroke-width="2.3" fill="none"/>
<circle cx="1456.66" cy="1969.53" r="4.45" stroke="#77AC30" stroke-width="2.3" fill="none"/>
<circle cx="1555.74" cy="1925.74" r="4.45" stroke="#77AC30" stroke-width="2.3" fill="none"/>
<circle cx="1654.83" cy="1902.62" r="4.45" stroke="#77AC30" stroke-width="2.3" fill="none"/>
<circle cx="1753.91" cy="1882.58" r="4.45" stroke="#77AC30" stroke-width="2.3" fill="none"/>
<circle cx="1853" cy="1861.92" r="4.45" stroke="#77AC30" stroke-width="2.3" fill="none"/>
<path clip-path="url(#cw7)" d="M1159.4 1709.91V1762.94M1154.8 1709.91H1164M1154.8 1762.94H1164M1208.94 1722.86V1770.34M1204.34 1722.86H1213.54M1204.34 1770.34H1213.54M1258.49 1718.54V1792.54M1253.89 1718.54H1263.09M1253.89 1792.54H1263.09M1357.57 1709.6V1768.18M1352.97 1709.6H1362.17M1352.97 1768.18H1362.17M1456.66 1738.28V1769.11M1452.06 1738.28H1461.26M1452.06 1769.11H1461.26M1555.74 1738.89V1783.91M1551.14 1738.89H1560.34M1551.14 1783.91H1560.34M1654.83 1780.83V1805.49M1650.23 1780.83H1659.43M1650.23 1805.49H1659.43M1753.91 1794.7V1821.22M1749.31 1794.7H1758.51M1749.31 1821.22H1758.51M1853 1796.55V1825.53M1848.4 1796.55H1857.6M1848.4 1825.53H1857.6" stroke="#000" stroke-width="2.5" fill="none"/>
<circle cx="1159.4" cy="1736.42" r="4.45" stroke="#000" stroke-width="2.3" fill="none"/>
<circle cx="1208.94" cy="1746.6" r="4.45" stroke="#000" stroke-width="2.3" fill="none"/>
<circle cx="1258.49" cy="1755.54" r="4.45" stroke="#000" stroke-width="2.3" fill="none"/>
<circle cx="1357.57" cy="1738.89" r="4.45" stroke="#000" stroke-width="2.3" fill="none"/>
<circle cx="1456.66" cy="1753.69" r="4.45" stroke="#000" stroke-width="2.3" fill="none"/>
<circle cx="1555.74" cy="1761.4" r="4.45" stroke="#000" stroke-width="2.3" fill="none"/>
<circle cx="1654.83" cy="1793.16" r="4.45" stroke="#000" stroke-width="2.3" fill="none"/>
<circle cx="1753.91" cy="1807.96" r="4.45" stroke="#000" stroke-width="2.3" fill="none"/>
<circle cx="1853" cy="1811.04" r="4.45" stroke="#000" stroke-width="2.3" fill="none"/>
<polygon clip-path="url(#c7)" points="1159.4,1713.3 1208.94,1761.09 1258.49,1803.03 1357.57,1867.47 1456.66,1912.79 1555.74,1944.86 1654.83,1967.37 1753.91,1982.78 1853,1994.5 1853,2051.23 1753.91,2039.52 1654.83,2024.1 1555.74,2001.59 1456.66,1969.53 1357.57,1924.2 1258.49,1859.76 1208.94,1817.83 1159.4,1770.03" fill="#0000FF" fill-opacity="0.2" stroke="#00007f" stroke-opacity="0.38" stroke-width="1.0"/>
<polyline clip-path="url(#c7)" points="1159.4,1741.67 1208.94,1789.46 1258.49,1831.39 1357.57,1895.83 1456.66,1941.16 1555.74,1973.22 1654.83,1995.73 1753.91,2011.15 1853,2022.87" stroke="#0000FF" stroke-width="2.5" fill="none" stroke-linejoin="round"/>
<polygon clip-path="url(#c7)" points="1159.4,2021.63 1208.94,1978.78 1258.49,1951.64 1357.57,1929.13 1456.66,1930.67 1555.74,1941.16 1654.83,1954.72 1753.91,1968.29 1853,1980.93 1853,2037.67 1753.91,2025.03 1654.83,2011.46 1555.74,1997.89 1456.66,1987.41 1357.57,1985.87 1258.49,2008.38 1208.94,2035.51 1159.4,2078.37" fill="#A2142F" fill-opacity="0.2" stroke="#510a17" stroke-opacity="0.38" stroke-width="1.0"/>
<polyline clip-path="url(#c7)" points="1159.4,2050 1208.94,2007.14 1258.49,1980.01 1357.57,1957.5 1456.66,1959.04 1555.74,1969.53 1654.83,1983.09 1753.91,1996.66 1853,2009.3" stroke="#A2142F" stroke-width="2.5" fill="none" stroke-linejoin="round"/>
<polygon clip-path="url(#c7)" points="1159.4,2021.63 1208.94,2014.54 1258.49,2000.05 1357.57,1961.51 1456.66,1916.18 1555.74,1877.03 1654.83,1842.49 1753.91,1813.2 1853,1792.85 1853,1849.58 1753.91,1869.93 1654.83,1899.22 1555.74,1933.76 1456.66,1972.92 1357.57,2018.24 1258.49,2056.78 1208.94,2071.28 1159.4,2078.37" fill="#77AC30" fill-opacity="0.2" stroke="#3b5618" stroke-opacity="0.38" stroke-width="1.0"/>
<polyline clip-path="url(#c7)" points="1159.4,2050 1208.94,2042.91 1258.49,2028.42 1357.57,1989.88 1456.66,1944.55 1555.74,1905.39 1654.83,1870.86 1753.91,1841.57 1853,1821.22" stroke="#77AC30" stroke-width="2.5" fill="none" stroke-linejoin="round"/>
<polygon clip-path="url(#c7)" points="1159.4,1692.33 1208.94,1693.1 1258.49,1693.88 1357.57,1695.42 1456.66,1696.96 1555.74,1698.5 1654.83,1700.04 1753.91,1701.58 1853,1703.12 1853,1801.79 1753.91,1800.25 1654.83,1798.71 1555.74,1797.17 1456.66,1795.62 1357.57,1794.08 1258.49,1792.54 1208.94,1791.77 1159.4,1791" fill="#000" fill-opacity="0.2" stroke="#000000" stroke-opacity="0.3" stroke-width="1.0"/>
<polyline clip-path="url(#c7)" points="1159.4,1741.67 1208.94,1742.44 1258.49,1743.21 1357.57,1744.75 1456.66,1746.29 1555.74,1747.83 1654.83,1749.38 1753.91,1750.92 1853,1752.46" stroke="#000" stroke-width="2.5" fill="none" stroke-linejoin="round"/>
<path d="M1159.4 2050v-7M1159.4 1680v7M1258.49 2050v-7M1258.49 1680v7M1357.57 2050v-7M1357.57 1680v7M1456.66 2050v-7M1456.66 1680v7M1555.74 2050v-7M1555.74 1680v7M1654.83 2050v-7M1654.83 1680v7M1753.91 2050v-7M1753.91 1680v7M1853 2050v-7M1853 1680v7M1159.4 2050h7M1853 2050h-7M1159.4 1988.33h7M1853 1988.33h-7M1159.4 1926.67h7M1853 1926.67h-7M1159.4 1865h7M1853 1865h-7M1159.4 1803.33h7M1853 1803.33h-7M1159.4 1741.67h7M1853 1741.67h-7M1159.4 1680h7M1853 1680h-7" stroke="#262626" stroke-width="1.1" fill="none"/>
<text x="1159.4" y="2080.9" text-anchor="middle" class="tk">0</text>
<text x="1258.49" y="2080.9" text-anchor="middle" class="tk">1</text>
<text x="1357.57" y="2080.9" text-anchor="middle" class="tk">2</text>
<text x="1456.66" y="2080.9" text-anchor="middle" class="tk">3</text>
<text x="1555.74" y="2080.9" text-anchor="middle" class="tk">4</text>
<text x="1654.83" y="2080.9" text-anchor="middle" class="tk">5</text>
<text x="1753.91" y="2080.9" text-anchor="middle" class="tk">6</text>
<text x="1853" y="2080.9" text-anchor="middle" class="tk">7</text>
<text x="1150" y="2059" text-anchor="end" class="tk">0</text>
<text x="1150" y="1997.33" text-anchor="end" class="tk">0.2</text>
<text x="1150" y="1935.67" text-anchor="end" class="tk">0.4</text>
<text x="1150" y="1874" text-anchor="end" class="tk">0.6</text>
<text x="1150" y="1812.33" text-anchor="end" class="tk">0.8</text>
<text x="1150" y="1750.67" text-anchor="end" class="tk">1</text>
<text x="1150" y="1689" text-anchor="end" class="tk">1.2</text>
<text x="1507.7" y="2110.3" text-anchor="middle" class="lab">Time (h)</text>
<text transform="translate(1109.6,1867.6) rotate(-90)" x="0" y="0" text-anchor="middle" class="lab">Non-Dimensional Concentration</text>
<text x="1506.9" y="1638.8" text-anchor="middle" class="ttl">I =15mA/cm<tspan dx="4.0" dy="-11.4" font-size="20" font-weight="bold" stroke-width="0.8">2</tspan></text>
<text x="1506.2" y="1670.5" text-anchor="middle" class="ttl">T =60°C</text>
<clipPath id="c8"><rect x="247.6" y="2278.3" width="693.9" height="369.2"/></clipPath>
<clipPath id="cw8"><rect x="235.6" y="2278.3" width="717.9" height="369.2"/></clipPath>
<rect x="247.6" y="2278.3" width="693.9" height="369.2" fill="none" stroke="#262626" stroke-width="1.1"/>
<path clip-path="url(#cw8)" d="M247.6 2322.34V2339.75M243 2322.34H252.2M243 2339.75H252.2M386.38 2352.93V2364.53M381.78 2352.93H390.98M381.78 2364.53H390.98M525.16 2376.4V2384.31M520.56 2376.4H529.76M520.56 2384.31H529.76M663.94 2386.69V2413.59M659.34 2386.69H668.54M659.34 2413.59H668.54M802.72 2423.61V2456.31M798.12 2423.61H807.32M798.12 2456.31H807.32M941.5 2423.61V2472.66M936.9 2423.61H946.1M936.9 2472.66H946.1" stroke="#0072BD" stroke-width="2.5" fill="none"/>
<circle cx="247.6" cy="2331.04" r="4.45" stroke="#0072BD" stroke-width="2.3" fill="none"/>
<circle cx="386.38" cy="2358.73" r="4.45" stroke="#0072BD" stroke-width="2.3" fill="none"/>
<circle cx="525.16" cy="2380.36" r="4.45" stroke="#0072BD" stroke-width="2.3" fill="none"/>
<circle cx="663.94" cy="2400.14" r="4.45" stroke="#0072BD" stroke-width="2.3" fill="none"/>
<circle cx="802.72" cy="2439.96" r="4.45" stroke="#0072BD" stroke-width="2.3" fill="none"/>
<circle cx="941.5" cy="2448.13" r="4.45" stroke="#0072BD" stroke-width="2.3" fill="none"/>
<path clip-path="url(#cw8)" d="M247.6 2594.76V2594.76M243 2594.76H252.2M243 2594.76H252.2M386.38 2553.88V2586.05M381.78 2553.88H390.98M381.78 2586.05H390.98M525.16 2548.61V2549.66M520.56 2548.61H529.76M520.56 2549.66H529.76M663.94 2528.3V2529.36M659.34 2528.3H668.54M659.34 2529.36H668.54M802.72 2513.8V2514.85M798.12 2513.8H807.32M798.12 2514.85H807.32M941.5 2505.62V2506.68M936.9 2505.62H946.1M936.9 2506.68H946.1" stroke="#A2142F" stroke-width="2.5" fill="none"/>
<circle cx="247.6" cy="2594.76" r="4.45" stroke="#A2142F" stroke-width="2.3" fill="none"/>
<circle cx="386.38" cy="2569.97" r="4.45" stroke="#A2142F" stroke-width="2.3" fill="none"/>
<circle cx="525.16" cy="2549.13" r="4.45" stroke="#A2142F" stroke-width="2.3" fill="none"/>
<circle cx="663.94" cy="2528.83" r="4.45" stroke="#A2142F" stroke-width="2.3" fill="none"/>
<circle cx="802.72" cy="2514.32" r="4.45" stroke="#A2142F" stroke-width="2.3" fill="none"/>
<circle cx="941.5" cy="2506.15" r="4.45" stroke="#A2142F" stroke-width="2.3" fill="none"/>
<path clip-path="url(#cw8)" d="M247.6 2594.76V2594.76M243 2594.76H252.2M243 2594.76H252.2M386.38 2590.8V2596.08M381.78 2590.8H390.98M381.78 2596.08H390.98M525.16 2587.11V2588.16M520.56 2587.11H529.76M520.56 2588.16H529.76M663.94 2579.46V2580.52M659.34 2579.46H668.54M659.34 2580.52H668.54M802.72 2569.44V2570.5M798.12 2569.44H807.32M798.12 2570.5H807.32M941.5 2553.62V2554.67M936.9 2553.62H946.1M936.9 2554.67H946.1" stroke="#77AC30" stroke-width="2.5" fill="none"/>
<circle cx="247.6" cy="2594.76" r="4.45" stroke="#77AC30" stroke-width="2.3" fill="none"/>
<circle cx="386.38" cy="2593.44" r="4.45" stroke="#77AC30" stroke-width="2.3" fill="none"/>
<circle cx="525.16" cy="2587.64" r="4.45" stroke="#77AC30" stroke-width="2.3" fill="none"/>
<circle cx="663.94" cy="2579.99" r="4.45" stroke="#77AC30" stroke-width="2.3" fill="none"/>
<circle cx="802.72" cy="2569.97" r="4.45" stroke="#77AC30" stroke-width="2.3" fill="none"/>
<circle cx="941.5" cy="2554.15" r="4.45" stroke="#77AC30" stroke-width="2.3" fill="none"/>
<path clip-path="url(#cw8)" d="M247.6 2328.41V2333.68M243 2328.41H252.2M243 2333.68H252.2M386.38 2313.37V2348.18M381.78 2313.37H390.98M381.78 2348.18H390.98M525.16 2322.6V2331.57M520.56 2322.6H529.76M520.56 2331.57H529.76M663.94 2305.46V2332.36M659.34 2305.46H668.54M659.34 2332.36H668.54M802.72 2317.07V2350.82M798.12 2317.07H807.32M798.12 2350.82H807.32M941.5 2294.12V2343.7M936.9 2294.12H946.1M936.9 2343.7H946.1" stroke="#000" stroke-width="2.5" fill="none"/>
<circle cx="247.6" cy="2331.04" r="4.45" stroke="#000" stroke-width="2.3" fill="none"/>
<circle cx="386.38" cy="2330.78" r="4.45" stroke="#000" stroke-width="2.3" fill="none"/>
<circle cx="525.16" cy="2327.09" r="4.45" stroke="#000" stroke-width="2.3" fill="none"/>
<circle cx="663.94" cy="2318.91" r="4.45" stroke="#000" stroke-width="2.3" fill="none"/>
<circle cx="802.72" cy="2333.94" r="4.45" stroke="#000" stroke-width="2.3" fill="none"/>
<circle cx="941.5" cy="2318.91" r="4.45" stroke="#000" stroke-width="2.3" fill="none"/>
<polygon clip-path="url(#c8)" points="247.6,2306.78 386.38,2334.47 525.16,2359.26 663.94,2381.68 802.72,2404.36 941.5,2423.87 941.5,2472.39 802.72,2452.88 663.94,2430.2 525.16,2407.78 386.38,2382.99 247.6,2355.3" fill="#0000FF" fill-opacity="0.2" stroke="#00007f" stroke-opacity="0.38" stroke-width="1.0"/>
<polyline clip-path="url(#c8)" points="247.6,2331.04 386.38,2358.73 525.16,2383.52 663.94,2405.94 802.72,2428.62 941.5,2448.13" stroke="#0000FF" stroke-width="2.5" fill="none" stroke-linejoin="round"/>
<polygon clip-path="url(#c8)" points="247.6,2570.5 386.38,2543.33 525.16,2524.87 663.94,2509.58 802.72,2499.03 941.5,2493.23 941.5,2541.75 802.72,2547.55 663.94,2558.1 525.16,2573.4 386.38,2591.86 247.6,2619.02" fill="#A2142F" fill-opacity="0.2" stroke="#510a17" stroke-opacity="0.38" stroke-width="1.0"/>
<polyline clip-path="url(#c8)" points="247.6,2594.76 386.38,2567.59 525.16,2549.13 663.94,2533.84 802.72,2523.29 941.5,2517.49" stroke="#A2142F" stroke-width="2.5" fill="none" stroke-linejoin="round"/>
<polygon clip-path="url(#c8)" points="247.6,2570.5 386.38,2568.12 525.16,2563.38 663.94,2555.73 802.72,2545.71 941.5,2531.73 941.5,2580.25 802.72,2594.23 663.94,2604.25 525.16,2611.9 386.38,2616.65 247.6,2619.02" fill="#77AC30" fill-opacity="0.2" stroke="#3b5618" stroke-opacity="0.38" stroke-width="1.0"/>
<polyline clip-path="url(#c8)" points="247.6,2594.76 386.38,2592.38 525.16,2587.64 663.94,2579.99 802.72,2569.97 941.5,2555.99" stroke="#77AC30" stroke-width="2.5" fill="none" stroke-linejoin="round"/>
<polygon clip-path="url(#c8)" points="247.6,2288.85 386.38,2288.95 525.16,2289.06 663.94,2289.17 802.72,2289.27 941.5,2289.38 941.5,2373.76 802.72,2373.66 663.94,2373.55 525.16,2373.45 386.38,2373.34 247.6,2373.24" fill="#000" fill-opacity="0.2" stroke="#000000" stroke-opacity="0.3" stroke-width="1.0"/>
<polyline clip-path="url(#c8)" points="247.6,2331.04 386.38,2331.15 525.16,2331.25 663.94,2331.36 802.72,2331.46 941.5,2331.57" stroke="#000" stroke-width="2.5" fill="none" stroke-linejoin="round"/>
<path d="M247.6 2647.5v-7M247.6 2278.3v7M386.38 2647.5v-7M386.38 2278.3v7M525.16 2647.5v-7M525.16 2278.3v7M663.94 2647.5v-7M663.94 2278.3v7M802.72 2647.5v-7M802.72 2278.3v7M941.5 2647.5v-7M941.5 2278.3v7M247.6 2647.5h7M941.5 2647.5h-7M247.6 2594.76h7M941.5 2594.76h-7M247.6 2542.01h7M941.5 2542.01h-7M247.6 2489.27h7M941.5 2489.27h-7M247.6 2436.53h7M941.5 2436.53h-7M247.6 2383.79h7M941.5 2383.79h-7M247.6 2331.04h7M941.5 2331.04h-7M247.6 2278.3h7M941.5 2278.3h-7" stroke="#262626" stroke-width="1.1" fill="none"/>
<text x="247.6" y="2678.4" text-anchor="middle" class="tk">0</text>
<text x="386.38" y="2678.4" text-anchor="middle" class="tk">0.5</text>
<text x="525.16" y="2678.4" text-anchor="middle" class="tk">1</text>
<text x="663.94" y="2678.4" text-anchor="middle" class="tk">1.5</text>
<text x="802.72" y="2678.4" text-anchor="middle" class="tk">2</text>
<text x="941.5" y="2678.4" text-anchor="middle" class="tk">2.5</text>
<text x="238.2" y="2656.5" text-anchor="end" class="tk">-0.2</text>
<text x="238.2" y="2603.76" text-anchor="end" class="tk">0</text>
<text x="238.2" y="2551.01" text-anchor="end" class="tk">0.2</text>
<text x="238.2" y="2498.27" text-anchor="end" class="tk">0.4</text>
<text x="238.2" y="2445.53" text-anchor="end" class="tk">0.6</text>
<text x="238.2" y="2392.79" text-anchor="end" class="tk">0.8</text>
<text x="238.2" y="2340.04" text-anchor="end" class="tk">1</text>
<text x="238.2" y="2287.3" text-anchor="end" class="tk">1.2</text>
<text x="596.05" y="2708.3" text-anchor="middle" class="lab">Time (h)</text>
<text transform="translate(189.5,2465.5) rotate(-90)" x="0" y="0" text-anchor="middle" class="lab">Non-Dimensional Concentration</text>
<text x="595.25" y="2237.1" text-anchor="middle" class="ttl">I =16.7188mA/cm<tspan dx="4.0" dy="-11.4" font-size="20" font-weight="bold" stroke-width="0.8">2</tspan></text>
<text x="594.55" y="2268.8" text-anchor="middle" class="ttl">T =22°C</text>
<clipPath id="c9"><rect x="1161.2" y="2278.3" width="692" height="369.2"/></clipPath>
<clipPath id="cw9"><rect x="1149.2" y="2278.3" width="716" height="369.2"/></clipPath>
<rect x="1161.2" y="2278.3" width="692" height="369.2" fill="none" stroke="#262626" stroke-width="1.1"/>
<path clip-path="url(#cw9)" d="M1161.2 2329.33V2330.12M1156.6 2329.33H1165.8M1156.6 2330.12H1165.8M1299.6 2353.59V2354.38M1295 2353.59H1304.2M1295 2354.38H1304.2M1438 2362.82V2363.61M1433.4 2362.82H1442.6M1433.4 2363.61H1442.6M1576.4 2392.09V2392.88M1571.8 2392.09H1581M1571.8 2392.88H1581M1714.8 2418.2V2418.99M1710.2 2418.2H1719.4M1710.2 2418.99H1719.4M1853.2 2454.33V2455.12M1848.6 2454.33H1857.8M1848.6 2455.12H1857.8" stroke="#0072BD" stroke-width="2.5" fill="none"/>
<circle cx="1161.2" cy="2329.72" r="4.45" stroke="#0072BD" stroke-width="2.3" fill="none"/>
<circle cx="1299.6" cy="2353.99" r="4.45" stroke="#0072BD" stroke-width="2.3" fill="none"/>
<circle cx="1438" cy="2363.22" r="4.45" stroke="#0072BD" stroke-width="2.3" fill="none"/>
<circle cx="1576.4" cy="2392.49" r="4.45" stroke="#0072BD" stroke-width="2.3" fill="none"/>
<circle cx="1714.8" cy="2418.6" r="4.45" stroke="#0072BD" stroke-width="2.3" fill="none"/>
<circle cx="1853.2" cy="2454.72" r="4.45" stroke="#0072BD" stroke-width="2.3" fill="none"/>
<path clip-path="url(#cw9)" d="M1161.2 2594.36V2595.15M1156.6 2594.36H1165.8M1156.6 2595.15H1165.8M1299.6 2570.36V2571.15M1295 2570.36H1304.2M1295 2571.15H1304.2M1438 2553.22V2554.01M1433.4 2553.22H1442.6M1433.4 2554.01H1442.6M1576.4 2537.4V2538.19M1571.8 2537.4H1581M1571.8 2538.19H1581M1714.8 2528.43V2529.22M1710.2 2528.43H1719.4M1710.2 2529.22H1719.4M1853.2 2532.92V2533.71M1848.6 2532.92H1857.8M1848.6 2533.71H1857.8" stroke="#A2142F" stroke-width="2.5" fill="none"/>
<circle cx="1161.2" cy="2594.76" r="4.45" stroke="#A2142F" stroke-width="2.3" fill="none"/>
<circle cx="1299.6" cy="2570.76" r="4.45" stroke="#A2142F" stroke-width="2.3" fill="none"/>
<circle cx="1438" cy="2553.62" r="4.45" stroke="#A2142F" stroke-width="2.3" fill="none"/>
<circle cx="1576.4" cy="2537.79" r="4.45" stroke="#A2142F" stroke-width="2.3" fill="none"/>
<circle cx="1714.8" cy="2528.83" r="4.45" stroke="#A2142F" stroke-width="2.3" fill="none"/>
<circle cx="1853.2" cy="2533.31" r="4.45" stroke="#A2142F" stroke-width="2.3" fill="none"/>
<path clip-path="url(#cw9)" d="M1161.2 2594.36V2595.15M1156.6 2594.36H1165.8M1156.6 2595.15H1165.8M1299.6 2590.67V2591.46M1295 2590.67H1304.2M1295 2591.46H1304.2M1438 2583.02V2583.81M1433.4 2583.02H1442.6M1433.4 2583.81H1442.6M1576.4 2573.53V2574.32M1571.8 2573.53H1581M1571.8 2574.32H1581M1714.8 2560.61V2561.4M1710.2 2560.61H1719.4M1710.2 2561.4H1719.4M1853.2 2544.26V2545.05M1848.6 2544.26H1857.8M1848.6 2545.05H1857.8" stroke="#77AC30" stroke-width="2.5" fill="none"/>
<circle cx="1161.2" cy="2594.76" r="4.45" stroke="#77AC30" stroke-width="2.3" fill="none"/>
<circle cx="1299.6" cy="2591.07" r="4.45" stroke="#77AC30" stroke-width="2.3" fill="none"/>
<circle cx="1438" cy="2583.42" r="4.45" stroke="#77AC30" stroke-width="2.3" fill="none"/>
<circle cx="1576.4" cy="2573.92" r="4.45" stroke="#77AC30" stroke-width="2.3" fill="none"/>
<circle cx="1714.8" cy="2561" r="4.45" stroke="#77AC30" stroke-width="2.3" fill="none"/>
<circle cx="1853.2" cy="2544.65" r="4.45" stroke="#77AC30" stroke-width="2.3" fill="none"/>
<path clip-path="url(#cw9)" d="M1161.2 2330.65V2331.44M1156.6 2330.65H1165.8M1156.6 2331.44H1165.8M1299.6 2325.37V2326.16M1295 2325.37H1304.2M1295 2326.16H1304.2M1438 2309.81V2310.61M1433.4 2309.81H1442.6M1433.4 2310.61H1442.6M1576.4 2312.98V2313.77M1571.8 2312.98H1581M1571.8 2313.77H1581M1714.8 2317.46V2318.25M1710.2 2317.46H1719.4M1710.2 2318.25H1719.4M1853.2 2342.25V2343.04M1848.6 2342.25H1857.8M1848.6 2343.04H1857.8" stroke="#000" stroke-width="2.5" fill="none"/>
<circle cx="1161.2" cy="2331.04" r="4.45" stroke="#000" stroke-width="2.3" fill="none"/>
<circle cx="1299.6" cy="2325.77" r="4.45" stroke="#000" stroke-width="2.3" fill="none"/>
<circle cx="1438" cy="2310.21" r="4.45" stroke="#000" stroke-width="2.3" fill="none"/>
<circle cx="1576.4" cy="2313.37" r="4.45" stroke="#000" stroke-width="2.3" fill="none"/>
<circle cx="1714.8" cy="2317.86" r="4.45" stroke="#000" stroke-width="2.3" fill="none"/>
<circle cx="1853.2" cy="2342.65" r="4.45" stroke="#000" stroke-width="2.3" fill="none"/>
<polygon clip-path="url(#c9)" points="1161.2,2306.78 1299.6,2338.16 1438,2367.44 1576.4,2392.75 1714.8,2413.32 1853.2,2432.84 1853.2,2481.36 1714.8,2461.85 1576.4,2441.28 1438,2415.96 1299.6,2386.69 1161.2,2355.3" fill="#0000FF" fill-opacity="0.2" stroke="#00007f" stroke-opacity="0.38" stroke-width="1.0"/>
<polyline clip-path="url(#c9)" points="1161.2,2331.04 1299.6,2362.42 1438,2391.7 1576.4,2417.01 1714.8,2437.58 1853.2,2457.1" stroke="#0000FF" stroke-width="2.5" fill="none" stroke-linejoin="round"/>
<polygon clip-path="url(#c9)" points="1161.2,2570.5 1299.6,2541.22 1438,2520.39 1576.4,2505.89 1714.8,2496.92 1853.2,2492.44 1853.2,2540.96 1714.8,2545.44 1576.4,2554.41 1438,2568.91 1299.6,2589.75 1161.2,2619.02" fill="#A2142F" fill-opacity="0.2" stroke="#510a17" stroke-opacity="0.38" stroke-width="1.0"/>
<polyline clip-path="url(#c9)" points="1161.2,2594.76 1299.6,2565.48 1438,2544.65 1576.4,2530.15 1714.8,2521.18 1853.2,2516.7" stroke="#A2142F" stroke-width="2.5" fill="none" stroke-linejoin="round"/>
<polygon clip-path="url(#c9)" points="1161.2,2570.5 1299.6,2566.8 1438,2560.21 1576.4,2550.19 1714.8,2537.53 1853.2,2522.76 1853.2,2571.29 1714.8,2586.05 1576.4,2598.71 1438,2608.73 1299.6,2615.33 1161.2,2619.02" fill="#77AC30" fill-opacity="0.2" stroke="#3b5618" stroke-opacity="0.38" stroke-width="1.0"/>
<polyline clip-path="url(#c9)" points="1161.2,2594.76 1299.6,2591.07 1438,2584.47 1576.4,2574.45 1714.8,2561.79 1853.2,2547.02" stroke="#77AC30" stroke-width="2.5" fill="none" stroke-linejoin="round"/>
<polygon clip-path="url(#c9)" points="1161.2,2288.85 1299.6,2289.11 1438,2289.38 1576.4,2289.64 1714.8,2289.9 1853.2,2290.17 1853.2,2374.56 1714.8,2374.29 1576.4,2374.03 1438,2373.76 1299.6,2373.5 1161.2,2373.24" fill="#000" fill-opacity="0.2" stroke="#000000" stroke-opacity="0.3" stroke-width="1.0"/>
<polyline clip-path="url(#c9)" points="1161.2,2331.04 1299.6,2331.31 1438,2331.57 1576.4,2331.83 1714.8,2332.1 1853.2,2332.36" stroke="#000" stroke-width="2.5" fill="none" stroke-linejoin="round"/>
<path d="M1161.2 2647.5v-7M1161.2 2278.3v7M1299.6 2647.5v-7M1299.6 2278.3v7M1438 2647.5v-7M1438 2278.3v7M1576.4 2647.5v-7M1576.4 2278.3v7M1714.8 2647.5v-7M1714.8 2278.3v7M1853.2 2647.5v-7M1853.2 2278.3v7M1161.2 2647.5h7M1853.2 2647.5h-7M1161.2 2594.76h7M1853.2 2594.76h-7M1161.2 2542.01h7M1853.2 2542.01h-7M1161.2 2489.27h7M1853.2 2489.27h-7M1161.2 2436.53h7M1853.2 2436.53h-7M1161.2 2383.79h7M1853.2 2383.79h-7M1161.2 2331.04h7M1853.2 2331.04h-7M1161.2 2278.3h7M1853.2 2278.3h-7" stroke="#262626" stroke-width="1.1" fill="none"/>
<text x="1161.2" y="2678.4" text-anchor="middle" class="tk">0</text>
<text x="1299.6" y="2678.4" text-anchor="middle" class="tk">0.5</text>
<text x="1438" y="2678.4" text-anchor="middle" class="tk">1</text>
<text x="1576.4" y="2678.4" text-anchor="middle" class="tk">1.5</text>
<text x="1714.8" y="2678.4" text-anchor="middle" class="tk">2</text>
<text x="1853.2" y="2678.4" text-anchor="middle" class="tk">2.5</text>
<text x="1151.8" y="2656.5" text-anchor="end" class="tk">-0.2</text>
<text x="1151.8" y="2603.76" text-anchor="end" class="tk">0</text>
<text x="1151.8" y="2551.01" text-anchor="end" class="tk">0.2</text>
<text x="1151.8" y="2498.27" text-anchor="end" class="tk">0.4</text>
<text x="1151.8" y="2445.53" text-anchor="end" class="tk">0.6</text>
<text x="1151.8" y="2392.79" text-anchor="end" class="tk">0.8</text>
<text x="1151.8" y="2340.04" text-anchor="end" class="tk">1</text>
<text x="1151.8" y="2287.3" text-anchor="end" class="tk">1.2</text>
<text x="1508.7" y="2708.3" text-anchor="middle" class="lab">Time (h)</text>
<text transform="translate(1103.1,2465.5) rotate(-90)" x="0" y="0" text-anchor="middle" class="lab">Non-Dimensional Concentration</text>
<text x="1507.9" y="2237.1" text-anchor="middle" class="ttl">I =15.9062mA/cm<tspan dx="4.0" dy="-11.4" font-size="20" font-weight="bold" stroke-width="0.8">2</tspan></text>
<text x="1507.2" y="2268.8" text-anchor="middle" class="ttl">T =34°C</text>
<rect x="1" y="1" width="455.4" height="131.6" fill="#fff" stroke="#2e2e2e" stroke-width="1.15"/>
<path d="M28.4 7.6V30.8M24.1 7.6H32.7M24.1 30.8H32.7" stroke="#0072BD" stroke-width="2" fill="none"/>
<circle cx="28.4" cy="19.2" r="4.5" stroke="#0072BD" stroke-width="2" fill="none"/>
<text x="55" y="29.5" class="leg">Anode data</text>
<path d="M224 19.5H266.8" stroke="#0000FF" stroke-width="2"/>
<text x="272" y="29.5" class="leg">Anode Model</text>
<path d="M28.4 38.9V62.1M24.1 38.9H32.7M24.1 62.1H32.7" stroke="#A2142F" stroke-width="2" fill="none"/>
<circle cx="28.4" cy="50.5" r="4.5" stroke="#A2142F" stroke-width="2" fill="none"/>
<text x="55" y="60.8" class="leg">Cathode data</text>
<path d="M224 50.8H266.8" stroke="#A2142F" stroke-width="2"/>
<text x="272" y="60.8" class="leg">Cathode Model</text>
<path d="M28.4 70.2V93.4M24.1 70.2H32.7M24.1 93.4H32.7" stroke="#77AC30" stroke-width="2" fill="none"/>
<circle cx="28.4" cy="81.8" r="4.5" stroke="#77AC30" stroke-width="2" fill="none"/>
<text x="55" y="92.1" class="leg">Trap Data</text>
<path d="M224 82.1H266.8" stroke="#77AC30" stroke-width="2"/>
<text x="272" y="92.1" class="leg">Trap Model</text>
<path d="M28.4 101.5V124.7M24.1 101.5H32.7M24.1 124.7H32.7" stroke="#000" stroke-width="2" fill="none"/>
<circle cx="28.4" cy="113.1" r="4.5" stroke="#000" stroke-width="2" fill="none"/>
<text x="55" y="123.4" class="leg">Total Data</text>
<path d="M224 113.4H266.8" stroke="#000" stroke-width="2"/>
<text x="272" y="123.4" class="leg">Total Model</text>
<rect x="5.6" y="2117.2" width="455.4" height="131.6" fill="#fff" stroke="#2e2e2e" stroke-width="1.15"/>
<path d="M33 2123.8V2147M28.7 2123.8H37.3M28.7 2147H37.3" stroke="#0072BD" stroke-width="2" fill="none"/>
<circle cx="33" cy="2135.4" r="4.5" stroke="#0072BD" stroke-width="2" fill="none"/>
<text x="59.6" y="2145.7" class="leg">Anode data</text>
<path d="M228.6 2135.7H271.4" stroke="#0000FF" stroke-width="2"/>
<text x="276.6" y="2145.7" class="leg">Anode Model</text>
<path d="M33 2155.1V2178.3M28.7 2155.1H37.3M28.7 2178.3H37.3" stroke="#A2142F" stroke-width="2" fill="none"/>
<circle cx="33" cy="2166.7" r="4.5" stroke="#A2142F" stroke-width="2" fill="none"/>
<text x="59.6" y="2177" class="leg">Cathode data</text>
<path d="M228.6 2167H271.4" stroke="#A2142F" stroke-width="2"/>
<text x="276.6" y="2177" class="leg">Cathode Model</text>
<path d="M33 2186.4V2209.6M28.7 2186.4H37.3M28.7 2209.6H37.3" stroke="#77AC30" stroke-width="2" fill="none"/>
<circle cx="33" cy="2198" r="4.5" stroke="#77AC30" stroke-width="2" fill="none"/>
<text x="59.6" y="2208.3" class="leg">Trap Data</text>
<path d="M228.6 2198.3H271.4" stroke="#77AC30" stroke-width="2"/>
<text x="276.6" y="2208.3" class="leg">Trap Model</text>
<path d="M33 2217.7V2240.9M28.7 2217.7H37.3M28.7 2240.9H37.3" stroke="#000" stroke-width="2" fill="none"/>
<circle cx="33" cy="2229.3" r="4.5" stroke="#000" stroke-width="2" fill="none"/>
<text x="59.6" y="2239.6" class="leg">Total Data</text>
<path d="M228.6 2229.6H271.4" stroke="#000" stroke-width="2"/>
<text x="276.6" y="2239.6" class="leg">Total Model</text>
<g fill="#111"><rect x="179.8" y="255" width="2" height="12"/><circle cx="181.2" cy="279.8" r="2.1"/><rect x="179.6" y="339.6" width="2.6" height="13"/><rect x="179.6" y="366" width="2.8" height="3.6"/></g>
<text x="931.2" y="51.7" class="big">Fitting Set</text>
<text x="907.6" y="2170.5" class="big">Validation Set</text>
</svg>
</body></html>
